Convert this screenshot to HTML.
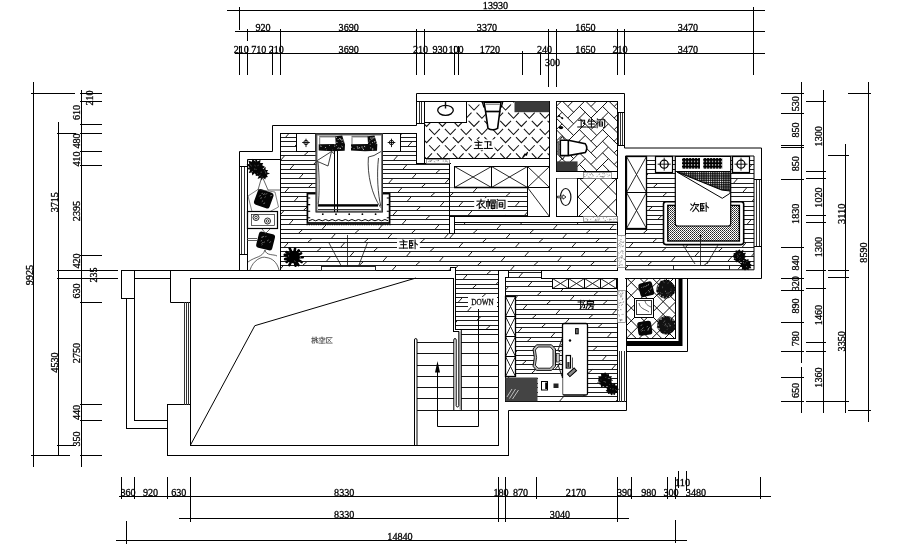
<!DOCTYPE html>
<html><head><meta charset="utf-8"><title>Floor plan</title>
<style>
html,body{margin:0;padding:0;background:#fff;}
body{width:920px;height:560px;overflow:hidden;}
svg{display:block;will-change:transform;}
svg text{font-family:"Liberation Serif",serif;stroke:#000;stroke-width:0.3px;}
</style></head><body>
<svg width="920" height="560" viewBox="0 0 920 560">
<rect width="920" height="560" fill="#fff"/>
<defs>
<clipPath id="cA"><path d="M280.5 133 L416.8 133 L416.8 163.3 L449.5 163.3 L449.5 270.5 L280.5 270.5 Z"/></clipPath>
<clipPath id="cH"><path d="M449 233.75 L454.5 233.75 L454.5 222.5 L616.5 222.5 L616.5 271 L498.75 271 L498.75 329.5 L455.5 329.5 L455.5 267 L450 267 L450 270.5 L449 270.5 Z"/></clipPath>
<clipPath id="cS"><path d="M508 271 L541 271 L541 278 L617 278 L617 401.25 L505.5 401.25 L505.5 277.5 L508 277.5 Z"/></clipPath>
<clipPath id="cB"><rect x="449.5" y="187.5" width="78.0" height="28.75"/></clipPath>
<clipPath id="cC"><rect x="625" y="156" width="129" height="113.30000000000001"/></clipPath>
<clipPath id="cBath"><rect x="424.4" y="101.2" width="124.85000000000002" height="56.8"/></clipPath>
<clipPath id="cWC"><rect x="556.75" y="101.2" width="60.25" height="70.05"/></clipPath>
<clipPath id="cSink"><rect x="577.9" y="178" width="38.60000000000002" height="38.25"/></clipPath>
<clipPath id="cBal"><rect x="626" y="278" width="49" height="60.39999999999998"/></clipPath>
</defs>
<g clip-path="url(#cA)" stroke="#1c1c1c" stroke-width="1">
<line x1="280.0" y1="123.5" x2="450.0" y2="123.5"/>
<line x1="276.10" y1="128.5" x2="280.50" y2="123.5"/>
<line x1="332.60" y1="128.5" x2="337.00" y2="123.5"/>
<line x1="389.10" y1="128.5" x2="393.50" y2="123.5"/>
<line x1="445.60" y1="128.5" x2="450.00" y2="123.5"/>
<line x1="280.0" y1="128.5" x2="450.0" y2="128.5"/>
<line x1="252.50" y1="132.5" x2="256.90" y2="128.5"/>
<line x1="309.00" y1="132.5" x2="313.40" y2="128.5"/>
<line x1="365.50" y1="132.5" x2="369.90" y2="128.5"/>
<line x1="422.00" y1="132.5" x2="426.40" y2="128.5"/>
<line x1="280.0" y1="132.5" x2="450.0" y2="132.5"/>
<line x1="228.90" y1="137.5" x2="233.30" y2="132.5"/>
<line x1="285.40" y1="137.5" x2="289.80" y2="132.5"/>
<line x1="341.90" y1="137.5" x2="346.30" y2="132.5"/>
<line x1="398.40" y1="137.5" x2="402.80" y2="132.5"/>
<line x1="280.0" y1="137.5" x2="450.0" y2="137.5"/>
<line x1="261.80" y1="141.5" x2="266.20" y2="137.5"/>
<line x1="318.30" y1="141.5" x2="322.70" y2="137.5"/>
<line x1="374.80" y1="141.5" x2="379.20" y2="137.5"/>
<line x1="431.30" y1="141.5" x2="435.70" y2="137.5"/>
<line x1="280.0" y1="141.5" x2="450.0" y2="141.5"/>
<line x1="238.20" y1="146.5" x2="242.60" y2="141.5"/>
<line x1="294.70" y1="146.5" x2="299.10" y2="141.5"/>
<line x1="351.20" y1="146.5" x2="355.60" y2="141.5"/>
<line x1="407.70" y1="146.5" x2="412.10" y2="141.5"/>
<line x1="280.0" y1="146.5" x2="450.0" y2="146.5"/>
<line x1="271.10" y1="151.5" x2="275.50" y2="146.5"/>
<line x1="327.60" y1="151.5" x2="332.00" y2="146.5"/>
<line x1="384.10" y1="151.5" x2="388.50" y2="146.5"/>
<line x1="440.60" y1="151.5" x2="445.00" y2="146.5"/>
<line x1="280.0" y1="151.5" x2="450.0" y2="151.5"/>
<line x1="247.50" y1="155.5" x2="251.90" y2="151.5"/>
<line x1="304.00" y1="155.5" x2="308.40" y2="151.5"/>
<line x1="360.50" y1="155.5" x2="364.90" y2="151.5"/>
<line x1="417.00" y1="155.5" x2="421.40" y2="151.5"/>
<line x1="280.0" y1="155.5" x2="450.0" y2="155.5"/>
<line x1="223.90" y1="160.5" x2="228.30" y2="155.5"/>
<line x1="280.40" y1="160.5" x2="284.80" y2="155.5"/>
<line x1="336.90" y1="160.5" x2="341.30" y2="155.5"/>
<line x1="393.40" y1="160.5" x2="397.80" y2="155.5"/>
<line x1="449.90" y1="160.5" x2="454.30" y2="155.5"/>
<line x1="280.0" y1="160.5" x2="450.0" y2="160.5"/>
<line x1="256.80" y1="164.5" x2="261.20" y2="160.5"/>
<line x1="313.30" y1="164.5" x2="317.70" y2="160.5"/>
<line x1="369.80" y1="164.5" x2="374.20" y2="160.5"/>
<line x1="426.30" y1="164.5" x2="430.70" y2="160.5"/>
<line x1="280.0" y1="164.5" x2="450.0" y2="164.5"/>
<line x1="233.20" y1="169.5" x2="237.60" y2="164.5"/>
<line x1="289.70" y1="169.5" x2="294.10" y2="164.5"/>
<line x1="346.20" y1="169.5" x2="350.60" y2="164.5"/>
<line x1="402.70" y1="169.5" x2="407.10" y2="164.5"/>
<line x1="280.0" y1="169.5" x2="450.0" y2="169.5"/>
<line x1="266.10" y1="173.5" x2="270.50" y2="169.5"/>
<line x1="322.60" y1="173.5" x2="327.00" y2="169.5"/>
<line x1="379.10" y1="173.5" x2="383.50" y2="169.5"/>
<line x1="435.60" y1="173.5" x2="440.00" y2="169.5"/>
<line x1="280.0" y1="173.5" x2="450.0" y2="173.5"/>
<line x1="242.50" y1="178.5" x2="246.90" y2="173.5"/>
<line x1="299.00" y1="178.5" x2="303.40" y2="173.5"/>
<line x1="355.50" y1="178.5" x2="359.90" y2="173.5"/>
<line x1="412.00" y1="178.5" x2="416.40" y2="173.5"/>
<line x1="280.0" y1="178.5" x2="450.0" y2="178.5"/>
<line x1="275.40" y1="183.5" x2="279.80" y2="178.5"/>
<line x1="331.90" y1="183.5" x2="336.30" y2="178.5"/>
<line x1="388.40" y1="183.5" x2="392.80" y2="178.5"/>
<line x1="444.90" y1="183.5" x2="449.30" y2="178.5"/>
<line x1="280.0" y1="183.5" x2="450.0" y2="183.5"/>
<line x1="251.80" y1="187.5" x2="256.20" y2="183.5"/>
<line x1="308.30" y1="187.5" x2="312.70" y2="183.5"/>
<line x1="364.80" y1="187.5" x2="369.20" y2="183.5"/>
<line x1="421.30" y1="187.5" x2="425.70" y2="183.5"/>
<line x1="280.0" y1="187.5" x2="450.0" y2="187.5"/>
<line x1="228.20" y1="192.5" x2="232.60" y2="187.5"/>
<line x1="284.70" y1="192.5" x2="289.10" y2="187.5"/>
<line x1="341.20" y1="192.5" x2="345.60" y2="187.5"/>
<line x1="397.70" y1="192.5" x2="402.10" y2="187.5"/>
<line x1="280.0" y1="192.5" x2="450.0" y2="192.5"/>
<line x1="261.10" y1="196.5" x2="265.50" y2="192.5"/>
<line x1="317.60" y1="196.5" x2="322.00" y2="192.5"/>
<line x1="374.10" y1="196.5" x2="378.50" y2="192.5"/>
<line x1="430.60" y1="196.5" x2="435.00" y2="192.5"/>
<line x1="280.0" y1="196.5" x2="450.0" y2="196.5"/>
<line x1="237.50" y1="201.5" x2="241.90" y2="196.5"/>
<line x1="294.00" y1="201.5" x2="298.40" y2="196.5"/>
<line x1="350.50" y1="201.5" x2="354.90" y2="196.5"/>
<line x1="407.00" y1="201.5" x2="411.40" y2="196.5"/>
<line x1="280.0" y1="201.5" x2="450.0" y2="201.5"/>
<line x1="270.40" y1="206.5" x2="274.80" y2="201.5"/>
<line x1="326.90" y1="206.5" x2="331.30" y2="201.5"/>
<line x1="383.40" y1="206.5" x2="387.80" y2="201.5"/>
<line x1="439.90" y1="206.5" x2="444.30" y2="201.5"/>
<line x1="280.0" y1="206.5" x2="450.0" y2="206.5"/>
<line x1="246.80" y1="210.5" x2="251.20" y2="206.5"/>
<line x1="303.30" y1="210.5" x2="307.70" y2="206.5"/>
<line x1="359.80" y1="210.5" x2="364.20" y2="206.5"/>
<line x1="416.30" y1="210.5" x2="420.70" y2="206.5"/>
<line x1="280.0" y1="210.5" x2="450.0" y2="210.5"/>
<line x1="223.20" y1="215.5" x2="227.60" y2="210.5"/>
<line x1="279.70" y1="215.5" x2="284.10" y2="210.5"/>
<line x1="336.20" y1="215.5" x2="340.60" y2="210.5"/>
<line x1="392.70" y1="215.5" x2="397.10" y2="210.5"/>
<line x1="449.20" y1="215.5" x2="453.60" y2="210.5"/>
<line x1="280.0" y1="215.5" x2="450.0" y2="215.5"/>
<line x1="256.10" y1="219.5" x2="260.50" y2="215.5"/>
<line x1="312.60" y1="219.5" x2="317.00" y2="215.5"/>
<line x1="369.10" y1="219.5" x2="373.50" y2="215.5"/>
<line x1="425.60" y1="219.5" x2="430.00" y2="215.5"/>
<line x1="280.0" y1="219.5" x2="450.0" y2="219.5"/>
<line x1="232.50" y1="224.5" x2="236.90" y2="219.5"/>
<line x1="289.00" y1="224.5" x2="293.40" y2="219.5"/>
<line x1="345.50" y1="224.5" x2="349.90" y2="219.5"/>
<line x1="402.00" y1="224.5" x2="406.40" y2="219.5"/>
<line x1="280.0" y1="224.5" x2="450.0" y2="224.5"/>
<line x1="265.40" y1="229.5" x2="269.80" y2="224.5"/>
<line x1="321.90" y1="229.5" x2="326.30" y2="224.5"/>
<line x1="378.40" y1="229.5" x2="382.80" y2="224.5"/>
<line x1="434.90" y1="229.5" x2="439.30" y2="224.5"/>
<line x1="280.0" y1="229.5" x2="450.0" y2="229.5"/>
<line x1="241.80" y1="233.5" x2="246.20" y2="229.5"/>
<line x1="298.30" y1="233.5" x2="302.70" y2="229.5"/>
<line x1="354.80" y1="233.5" x2="359.20" y2="229.5"/>
<line x1="411.30" y1="233.5" x2="415.70" y2="229.5"/>
<line x1="280.0" y1="233.5" x2="450.0" y2="233.5"/>
<line x1="274.70" y1="238.5" x2="279.10" y2="233.5"/>
<line x1="331.20" y1="238.5" x2="335.60" y2="233.5"/>
<line x1="387.70" y1="238.5" x2="392.10" y2="233.5"/>
<line x1="444.20" y1="238.5" x2="448.60" y2="233.5"/>
<line x1="280.0" y1="238.5" x2="450.0" y2="238.5"/>
<line x1="251.10" y1="242.5" x2="255.50" y2="238.5"/>
<line x1="307.60" y1="242.5" x2="312.00" y2="238.5"/>
<line x1="364.10" y1="242.5" x2="368.50" y2="238.5"/>
<line x1="420.60" y1="242.5" x2="425.00" y2="238.5"/>
<line x1="280.0" y1="242.5" x2="450.0" y2="242.5"/>
<line x1="227.50" y1="247.5" x2="231.90" y2="242.5"/>
<line x1="284.00" y1="247.5" x2="288.40" y2="242.5"/>
<line x1="340.50" y1="247.5" x2="344.90" y2="242.5"/>
<line x1="397.00" y1="247.5" x2="401.40" y2="242.5"/>
<line x1="280.0" y1="247.5" x2="450.0" y2="247.5"/>
<line x1="260.40" y1="251.5" x2="264.80" y2="247.5"/>
<line x1="316.90" y1="251.5" x2="321.30" y2="247.5"/>
<line x1="373.40" y1="251.5" x2="377.80" y2="247.5"/>
<line x1="429.90" y1="251.5" x2="434.30" y2="247.5"/>
<line x1="280.0" y1="251.5" x2="450.0" y2="251.5"/>
<line x1="236.80" y1="256.5" x2="241.20" y2="251.5"/>
<line x1="293.30" y1="256.5" x2="297.70" y2="251.5"/>
<line x1="349.80" y1="256.5" x2="354.20" y2="251.5"/>
<line x1="406.30" y1="256.5" x2="410.70" y2="251.5"/>
<line x1="280.0" y1="256.5" x2="450.0" y2="256.5"/>
<line x1="269.70" y1="261.5" x2="274.10" y2="256.5"/>
<line x1="326.20" y1="261.5" x2="330.60" y2="256.5"/>
<line x1="382.70" y1="261.5" x2="387.10" y2="256.5"/>
<line x1="439.20" y1="261.5" x2="443.60" y2="256.5"/>
<line x1="280.0" y1="261.5" x2="450.0" y2="261.5"/>
<line x1="246.10" y1="265.5" x2="250.50" y2="261.5"/>
<line x1="302.60" y1="265.5" x2="307.00" y2="261.5"/>
<line x1="359.10" y1="265.5" x2="363.50" y2="261.5"/>
<line x1="415.60" y1="265.5" x2="420.00" y2="261.5"/>
<line x1="280.0" y1="265.5" x2="450.0" y2="265.5"/>
<line x1="222.50" y1="270.5" x2="226.90" y2="265.5"/>
<line x1="279.00" y1="270.5" x2="283.40" y2="265.5"/>
<line x1="335.50" y1="270.5" x2="339.90" y2="265.5"/>
<line x1="392.00" y1="270.5" x2="396.40" y2="265.5"/>
<line x1="448.50" y1="270.5" x2="452.90" y2="265.5"/>
<line x1="280.0" y1="270.5" x2="450.0" y2="270.5"/>
<line x1="255.40" y1="274.5" x2="259.80" y2="270.5"/>
<line x1="311.90" y1="274.5" x2="316.30" y2="270.5"/>
<line x1="368.40" y1="274.5" x2="372.80" y2="270.5"/>
<line x1="424.90" y1="274.5" x2="429.30" y2="270.5"/>
<line x1="280.0" y1="274.5" x2="450.0" y2="274.5"/>
<line x1="231.80" y1="279.5" x2="236.20" y2="274.5"/>
<line x1="288.30" y1="279.5" x2="292.70" y2="274.5"/>
<line x1="344.80" y1="279.5" x2="349.20" y2="274.5"/>
<line x1="401.30" y1="279.5" x2="405.70" y2="274.5"/>
<line x1="280.0" y1="279.5" x2="450.0" y2="279.5"/>
<line x1="264.70" y1="284.5" x2="269.10" y2="279.5"/>
<line x1="321.20" y1="284.5" x2="325.60" y2="279.5"/>
<line x1="377.70" y1="284.5" x2="382.10" y2="279.5"/>
<line x1="434.20" y1="284.5" x2="438.60" y2="279.5"/>
</g>
<g clip-path="url(#cH)" stroke="#1c1c1c" stroke-width="1">
<line x1="449.0" y1="215.5" x2="620.0" y2="215.5"/>
<line x1="430.80" y1="219.5" x2="435.20" y2="215.5"/>
<line x1="487.30" y1="219.5" x2="491.70" y2="215.5"/>
<line x1="543.80" y1="219.5" x2="548.20" y2="215.5"/>
<line x1="600.30" y1="219.5" x2="604.70" y2="215.5"/>
<line x1="449.0" y1="219.5" x2="620.0" y2="219.5"/>
<line x1="407.20" y1="224.5" x2="411.60" y2="219.5"/>
<line x1="463.70" y1="224.5" x2="468.10" y2="219.5"/>
<line x1="520.20" y1="224.5" x2="524.60" y2="219.5"/>
<line x1="576.70" y1="224.5" x2="581.10" y2="219.5"/>
<line x1="449.0" y1="224.5" x2="620.0" y2="224.5"/>
<line x1="440.10" y1="229.5" x2="444.50" y2="224.5"/>
<line x1="496.60" y1="229.5" x2="501.00" y2="224.5"/>
<line x1="553.10" y1="229.5" x2="557.50" y2="224.5"/>
<line x1="609.60" y1="229.5" x2="614.00" y2="224.5"/>
<line x1="449.0" y1="229.5" x2="620.0" y2="229.5"/>
<line x1="416.50" y1="233.5" x2="420.90" y2="229.5"/>
<line x1="473.00" y1="233.5" x2="477.40" y2="229.5"/>
<line x1="529.50" y1="233.5" x2="533.90" y2="229.5"/>
<line x1="586.00" y1="233.5" x2="590.40" y2="229.5"/>
<line x1="449.0" y1="233.5" x2="620.0" y2="233.5"/>
<line x1="392.90" y1="238.5" x2="397.30" y2="233.5"/>
<line x1="449.40" y1="238.5" x2="453.80" y2="233.5"/>
<line x1="505.90" y1="238.5" x2="510.30" y2="233.5"/>
<line x1="562.40" y1="238.5" x2="566.80" y2="233.5"/>
<line x1="618.90" y1="238.5" x2="623.30" y2="233.5"/>
<line x1="449.0" y1="238.5" x2="620.0" y2="238.5"/>
<line x1="425.80" y1="242.5" x2="430.20" y2="238.5"/>
<line x1="482.30" y1="242.5" x2="486.70" y2="238.5"/>
<line x1="538.80" y1="242.5" x2="543.20" y2="238.5"/>
<line x1="595.30" y1="242.5" x2="599.70" y2="238.5"/>
<line x1="449.0" y1="242.5" x2="620.0" y2="242.5"/>
<line x1="402.20" y1="247.5" x2="406.60" y2="242.5"/>
<line x1="458.70" y1="247.5" x2="463.10" y2="242.5"/>
<line x1="515.20" y1="247.5" x2="519.60" y2="242.5"/>
<line x1="571.70" y1="247.5" x2="576.10" y2="242.5"/>
<line x1="449.0" y1="247.5" x2="620.0" y2="247.5"/>
<line x1="435.10" y1="251.5" x2="439.50" y2="247.5"/>
<line x1="491.60" y1="251.5" x2="496.00" y2="247.5"/>
<line x1="548.10" y1="251.5" x2="552.50" y2="247.5"/>
<line x1="604.60" y1="251.5" x2="609.00" y2="247.5"/>
<line x1="449.0" y1="251.5" x2="620.0" y2="251.5"/>
<line x1="411.50" y1="256.5" x2="415.90" y2="251.5"/>
<line x1="468.00" y1="256.5" x2="472.40" y2="251.5"/>
<line x1="524.50" y1="256.5" x2="528.90" y2="251.5"/>
<line x1="581.00" y1="256.5" x2="585.40" y2="251.5"/>
<line x1="449.0" y1="256.5" x2="620.0" y2="256.5"/>
<line x1="444.40" y1="261.5" x2="448.80" y2="256.5"/>
<line x1="500.90" y1="261.5" x2="505.30" y2="256.5"/>
<line x1="557.40" y1="261.5" x2="561.80" y2="256.5"/>
<line x1="613.90" y1="261.5" x2="618.30" y2="256.5"/>
<line x1="449.0" y1="261.5" x2="620.0" y2="261.5"/>
<line x1="420.80" y1="265.5" x2="425.20" y2="261.5"/>
<line x1="477.30" y1="265.5" x2="481.70" y2="261.5"/>
<line x1="533.80" y1="265.5" x2="538.20" y2="261.5"/>
<line x1="590.30" y1="265.5" x2="594.70" y2="261.5"/>
<line x1="449.0" y1="265.5" x2="620.0" y2="265.5"/>
<line x1="397.20" y1="270.5" x2="401.60" y2="265.5"/>
<line x1="453.70" y1="270.5" x2="458.10" y2="265.5"/>
<line x1="510.20" y1="270.5" x2="514.60" y2="265.5"/>
<line x1="566.70" y1="270.5" x2="571.10" y2="265.5"/>
<line x1="449.0" y1="270.5" x2="620.0" y2="270.5"/>
<line x1="430.10" y1="274.5" x2="434.50" y2="270.5"/>
<line x1="486.60" y1="274.5" x2="491.00" y2="270.5"/>
<line x1="543.10" y1="274.5" x2="547.50" y2="270.5"/>
<line x1="599.60" y1="274.5" x2="604.00" y2="270.5"/>
<line x1="449.0" y1="274.5" x2="620.0" y2="274.5"/>
<line x1="406.50" y1="279.5" x2="410.90" y2="274.5"/>
<line x1="463.00" y1="279.5" x2="467.40" y2="274.5"/>
<line x1="519.50" y1="279.5" x2="523.90" y2="274.5"/>
<line x1="576.00" y1="279.5" x2="580.40" y2="274.5"/>
<line x1="449.0" y1="279.5" x2="620.0" y2="279.5"/>
<line x1="439.40" y1="284.5" x2="443.80" y2="279.5"/>
<line x1="495.90" y1="284.5" x2="500.30" y2="279.5"/>
<line x1="552.40" y1="284.5" x2="556.80" y2="279.5"/>
<line x1="608.90" y1="284.5" x2="613.30" y2="279.5"/>
<line x1="449.0" y1="284.5" x2="620.0" y2="284.5"/>
<line x1="415.80" y1="288.5" x2="420.20" y2="284.5"/>
<line x1="472.30" y1="288.5" x2="476.70" y2="284.5"/>
<line x1="528.80" y1="288.5" x2="533.20" y2="284.5"/>
<line x1="585.30" y1="288.5" x2="589.70" y2="284.5"/>
<line x1="449.0" y1="288.5" x2="620.0" y2="288.5"/>
<line x1="392.20" y1="293.5" x2="396.60" y2="288.5"/>
<line x1="448.70" y1="293.5" x2="453.10" y2="288.5"/>
<line x1="505.20" y1="293.5" x2="509.60" y2="288.5"/>
<line x1="561.70" y1="293.5" x2="566.10" y2="288.5"/>
<line x1="618.20" y1="293.5" x2="622.60" y2="288.5"/>
<line x1="449.0" y1="293.5" x2="620.0" y2="293.5"/>
<line x1="425.10" y1="297.5" x2="429.50" y2="293.5"/>
<line x1="481.60" y1="297.5" x2="486.00" y2="293.5"/>
<line x1="538.10" y1="297.5" x2="542.50" y2="293.5"/>
<line x1="594.60" y1="297.5" x2="599.00" y2="293.5"/>
<line x1="449.0" y1="297.5" x2="620.0" y2="297.5"/>
<line x1="401.50" y1="302.5" x2="405.90" y2="297.5"/>
<line x1="458.00" y1="302.5" x2="462.40" y2="297.5"/>
<line x1="514.50" y1="302.5" x2="518.90" y2="297.5"/>
<line x1="571.00" y1="302.5" x2="575.40" y2="297.5"/>
<line x1="449.0" y1="302.5" x2="620.0" y2="302.5"/>
<line x1="434.40" y1="306.5" x2="438.80" y2="302.5"/>
<line x1="490.90" y1="306.5" x2="495.30" y2="302.5"/>
<line x1="547.40" y1="306.5" x2="551.80" y2="302.5"/>
<line x1="603.90" y1="306.5" x2="608.30" y2="302.5"/>
<line x1="449.0" y1="306.5" x2="620.0" y2="306.5"/>
<line x1="410.80" y1="311.5" x2="415.20" y2="306.5"/>
<line x1="467.30" y1="311.5" x2="471.70" y2="306.5"/>
<line x1="523.80" y1="311.5" x2="528.20" y2="306.5"/>
<line x1="580.30" y1="311.5" x2="584.70" y2="306.5"/>
<line x1="449.0" y1="311.5" x2="620.0" y2="311.5"/>
<line x1="443.70" y1="316.5" x2="448.10" y2="311.5"/>
<line x1="500.20" y1="316.5" x2="504.60" y2="311.5"/>
<line x1="556.70" y1="316.5" x2="561.10" y2="311.5"/>
<line x1="613.20" y1="316.5" x2="617.60" y2="311.5"/>
<line x1="449.0" y1="316.5" x2="620.0" y2="316.5"/>
<line x1="420.10" y1="320.5" x2="424.50" y2="316.5"/>
<line x1="476.60" y1="320.5" x2="481.00" y2="316.5"/>
<line x1="533.10" y1="320.5" x2="537.50" y2="316.5"/>
<line x1="589.60" y1="320.5" x2="594.00" y2="316.5"/>
<line x1="449.0" y1="320.5" x2="620.0" y2="320.5"/>
<line x1="396.50" y1="325.5" x2="400.90" y2="320.5"/>
<line x1="453.00" y1="325.5" x2="457.40" y2="320.5"/>
<line x1="509.50" y1="325.5" x2="513.90" y2="320.5"/>
<line x1="566.00" y1="325.5" x2="570.40" y2="320.5"/>
<line x1="622.50" y1="325.5" x2="626.90" y2="320.5"/>
<line x1="449.0" y1="325.5" x2="620.0" y2="325.5"/>
<line x1="429.40" y1="329.5" x2="433.80" y2="325.5"/>
<line x1="485.90" y1="329.5" x2="490.30" y2="325.5"/>
<line x1="542.40" y1="329.5" x2="546.80" y2="325.5"/>
<line x1="598.90" y1="329.5" x2="603.30" y2="325.5"/>
<line x1="449.0" y1="329.5" x2="620.0" y2="329.5"/>
<line x1="405.80" y1="334.5" x2="410.20" y2="329.5"/>
<line x1="462.30" y1="334.5" x2="466.70" y2="329.5"/>
<line x1="518.80" y1="334.5" x2="523.20" y2="329.5"/>
<line x1="575.30" y1="334.5" x2="579.70" y2="329.5"/>
<line x1="449.0" y1="334.5" x2="620.0" y2="334.5"/>
<line x1="438.70" y1="339.5" x2="443.10" y2="334.5"/>
<line x1="495.20" y1="339.5" x2="499.60" y2="334.5"/>
<line x1="551.70" y1="339.5" x2="556.10" y2="334.5"/>
<line x1="608.20" y1="339.5" x2="612.60" y2="334.5"/>
<line x1="449.0" y1="339.5" x2="620.0" y2="339.5"/>
<line x1="415.10" y1="343.5" x2="419.50" y2="339.5"/>
<line x1="471.60" y1="343.5" x2="476.00" y2="339.5"/>
<line x1="528.10" y1="343.5" x2="532.50" y2="339.5"/>
<line x1="584.60" y1="343.5" x2="589.00" y2="339.5"/>
</g>
<g clip-path="url(#cS)" stroke="#1c1c1c" stroke-width="1">
<line x1="505.0" y1="263.5" x2="620.0" y2="263.5"/>
<line x1="452.70" y1="268.5" x2="457.10" y2="263.5"/>
<line x1="509.20" y1="268.5" x2="513.60" y2="263.5"/>
<line x1="565.70" y1="268.5" x2="570.10" y2="263.5"/>
<line x1="622.20" y1="268.5" x2="626.60" y2="263.5"/>
<line x1="505.0" y1="268.5" x2="620.0" y2="268.5"/>
<line x1="485.60" y1="272.5" x2="490.00" y2="268.5"/>
<line x1="542.10" y1="272.5" x2="546.50" y2="268.5"/>
<line x1="598.60" y1="272.5" x2="603.00" y2="268.5"/>
<line x1="505.0" y1="272.5" x2="620.0" y2="272.5"/>
<line x1="462.00" y1="277.5" x2="466.40" y2="272.5"/>
<line x1="518.50" y1="277.5" x2="522.90" y2="272.5"/>
<line x1="575.00" y1="277.5" x2="579.40" y2="272.5"/>
<line x1="505.0" y1="277.5" x2="620.0" y2="277.5"/>
<line x1="494.90" y1="281.5" x2="499.30" y2="277.5"/>
<line x1="551.40" y1="281.5" x2="555.80" y2="277.5"/>
<line x1="607.90" y1="281.5" x2="612.30" y2="277.5"/>
<line x1="505.0" y1="281.5" x2="620.0" y2="281.5"/>
<line x1="471.30" y1="286.5" x2="475.70" y2="281.5"/>
<line x1="527.80" y1="286.5" x2="532.20" y2="281.5"/>
<line x1="584.30" y1="286.5" x2="588.70" y2="281.5"/>
<line x1="505.0" y1="286.5" x2="620.0" y2="286.5"/>
<line x1="447.70" y1="291.5" x2="452.10" y2="286.5"/>
<line x1="504.20" y1="291.5" x2="508.60" y2="286.5"/>
<line x1="560.70" y1="291.5" x2="565.10" y2="286.5"/>
<line x1="617.20" y1="291.5" x2="621.60" y2="286.5"/>
<line x1="505.0" y1="291.5" x2="620.0" y2="291.5"/>
<line x1="480.60" y1="295.5" x2="485.00" y2="291.5"/>
<line x1="537.10" y1="295.5" x2="541.50" y2="291.5"/>
<line x1="593.60" y1="295.5" x2="598.00" y2="291.5"/>
<line x1="505.0" y1="295.5" x2="620.0" y2="295.5"/>
<line x1="457.00" y1="300.5" x2="461.40" y2="295.5"/>
<line x1="513.50" y1="300.5" x2="517.90" y2="295.5"/>
<line x1="570.00" y1="300.5" x2="574.40" y2="295.5"/>
<line x1="505.0" y1="300.5" x2="620.0" y2="300.5"/>
<line x1="489.90" y1="304.5" x2="494.30" y2="300.5"/>
<line x1="546.40" y1="304.5" x2="550.80" y2="300.5"/>
<line x1="602.90" y1="304.5" x2="607.30" y2="300.5"/>
<line x1="505.0" y1="304.5" x2="620.0" y2="304.5"/>
<line x1="466.30" y1="309.5" x2="470.70" y2="304.5"/>
<line x1="522.80" y1="309.5" x2="527.20" y2="304.5"/>
<line x1="579.30" y1="309.5" x2="583.70" y2="304.5"/>
<line x1="505.0" y1="309.5" x2="620.0" y2="309.5"/>
<line x1="499.20" y1="314.5" x2="503.60" y2="309.5"/>
<line x1="555.70" y1="314.5" x2="560.10" y2="309.5"/>
<line x1="612.20" y1="314.5" x2="616.60" y2="309.5"/>
<line x1="505.0" y1="314.5" x2="620.0" y2="314.5"/>
<line x1="475.60" y1="318.5" x2="480.00" y2="314.5"/>
<line x1="532.10" y1="318.5" x2="536.50" y2="314.5"/>
<line x1="588.60" y1="318.5" x2="593.00" y2="314.5"/>
<line x1="505.0" y1="318.5" x2="620.0" y2="318.5"/>
<line x1="452.00" y1="323.5" x2="456.40" y2="318.5"/>
<line x1="508.50" y1="323.5" x2="512.90" y2="318.5"/>
<line x1="565.00" y1="323.5" x2="569.40" y2="318.5"/>
<line x1="621.50" y1="323.5" x2="625.90" y2="318.5"/>
<line x1="505.0" y1="323.5" x2="620.0" y2="323.5"/>
<line x1="484.90" y1="327.5" x2="489.30" y2="323.5"/>
<line x1="541.40" y1="327.5" x2="545.80" y2="323.5"/>
<line x1="597.90" y1="327.5" x2="602.30" y2="323.5"/>
<line x1="505.0" y1="327.5" x2="620.0" y2="327.5"/>
<line x1="461.30" y1="332.5" x2="465.70" y2="327.5"/>
<line x1="517.80" y1="332.5" x2="522.20" y2="327.5"/>
<line x1="574.30" y1="332.5" x2="578.70" y2="327.5"/>
<line x1="505.0" y1="332.5" x2="620.0" y2="332.5"/>
<line x1="494.20" y1="337.5" x2="498.60" y2="332.5"/>
<line x1="550.70" y1="337.5" x2="555.10" y2="332.5"/>
<line x1="607.20" y1="337.5" x2="611.60" y2="332.5"/>
<line x1="505.0" y1="337.5" x2="620.0" y2="337.5"/>
<line x1="470.60" y1="341.5" x2="475.00" y2="337.5"/>
<line x1="527.10" y1="341.5" x2="531.50" y2="337.5"/>
<line x1="583.60" y1="341.5" x2="588.00" y2="337.5"/>
<line x1="505.0" y1="341.5" x2="620.0" y2="341.5"/>
<line x1="447.00" y1="346.5" x2="451.40" y2="341.5"/>
<line x1="503.50" y1="346.5" x2="507.90" y2="341.5"/>
<line x1="560.00" y1="346.5" x2="564.40" y2="341.5"/>
<line x1="616.50" y1="346.5" x2="620.90" y2="341.5"/>
<line x1="505.0" y1="346.5" x2="620.0" y2="346.5"/>
<line x1="479.90" y1="350.5" x2="484.30" y2="346.5"/>
<line x1="536.40" y1="350.5" x2="540.80" y2="346.5"/>
<line x1="592.90" y1="350.5" x2="597.30" y2="346.5"/>
<line x1="505.0" y1="350.5" x2="620.0" y2="350.5"/>
<line x1="456.30" y1="355.5" x2="460.70" y2="350.5"/>
<line x1="512.80" y1="355.5" x2="517.20" y2="350.5"/>
<line x1="569.30" y1="355.5" x2="573.70" y2="350.5"/>
<line x1="505.0" y1="355.5" x2="620.0" y2="355.5"/>
<line x1="489.20" y1="360.5" x2="493.60" y2="355.5"/>
<line x1="545.70" y1="360.5" x2="550.10" y2="355.5"/>
<line x1="602.20" y1="360.5" x2="606.60" y2="355.5"/>
<line x1="505.0" y1="360.5" x2="620.0" y2="360.5"/>
<line x1="465.60" y1="364.5" x2="470.00" y2="360.5"/>
<line x1="522.10" y1="364.5" x2="526.50" y2="360.5"/>
<line x1="578.60" y1="364.5" x2="583.00" y2="360.5"/>
<line x1="505.0" y1="364.5" x2="620.0" y2="364.5"/>
<line x1="498.50" y1="369.5" x2="502.90" y2="364.5"/>
<line x1="555.00" y1="369.5" x2="559.40" y2="364.5"/>
<line x1="611.50" y1="369.5" x2="615.90" y2="364.5"/>
<line x1="505.0" y1="369.5" x2="620.0" y2="369.5"/>
<line x1="474.90" y1="373.5" x2="479.30" y2="369.5"/>
<line x1="531.40" y1="373.5" x2="535.80" y2="369.5"/>
<line x1="587.90" y1="373.5" x2="592.30" y2="369.5"/>
<line x1="505.0" y1="373.5" x2="620.0" y2="373.5"/>
<line x1="451.30" y1="378.5" x2="455.70" y2="373.5"/>
<line x1="507.80" y1="378.5" x2="512.20" y2="373.5"/>
<line x1="564.30" y1="378.5" x2="568.70" y2="373.5"/>
<line x1="620.80" y1="378.5" x2="625.20" y2="373.5"/>
<line x1="505.0" y1="378.5" x2="620.0" y2="378.5"/>
<line x1="484.20" y1="383.5" x2="488.60" y2="378.5"/>
<line x1="540.70" y1="383.5" x2="545.10" y2="378.5"/>
<line x1="597.20" y1="383.5" x2="601.60" y2="378.5"/>
<line x1="505.0" y1="383.5" x2="620.0" y2="383.5"/>
<line x1="460.60" y1="387.5" x2="465.00" y2="383.5"/>
<line x1="517.10" y1="387.5" x2="521.50" y2="383.5"/>
<line x1="573.60" y1="387.5" x2="578.00" y2="383.5"/>
<line x1="505.0" y1="387.5" x2="620.0" y2="387.5"/>
<line x1="493.50" y1="392.5" x2="497.90" y2="387.5"/>
<line x1="550.00" y1="392.5" x2="554.40" y2="387.5"/>
<line x1="606.50" y1="392.5" x2="610.90" y2="387.5"/>
<line x1="505.0" y1="392.5" x2="620.0" y2="392.5"/>
<line x1="469.90" y1="396.5" x2="474.30" y2="392.5"/>
<line x1="526.40" y1="396.5" x2="530.80" y2="392.5"/>
<line x1="582.90" y1="396.5" x2="587.30" y2="392.5"/>
<line x1="505.0" y1="396.5" x2="620.0" y2="396.5"/>
<line x1="502.80" y1="401.5" x2="507.20" y2="396.5"/>
<line x1="559.30" y1="401.5" x2="563.70" y2="396.5"/>
<line x1="615.80" y1="401.5" x2="620.20" y2="396.5"/>
<line x1="505.0" y1="401.5" x2="620.0" y2="401.5"/>
<line x1="479.20" y1="406.5" x2="483.60" y2="401.5"/>
<line x1="535.70" y1="406.5" x2="540.10" y2="401.5"/>
<line x1="592.20" y1="406.5" x2="596.60" y2="401.5"/>
<line x1="505.0" y1="406.5" x2="620.0" y2="406.5"/>
<line x1="455.60" y1="410.5" x2="460.00" y2="406.5"/>
<line x1="512.10" y1="410.5" x2="516.50" y2="406.5"/>
<line x1="568.60" y1="410.5" x2="573.00" y2="406.5"/>
<line x1="505.0" y1="410.5" x2="620.0" y2="410.5"/>
<line x1="488.50" y1="415.5" x2="492.90" y2="410.5"/>
<line x1="545.00" y1="415.5" x2="549.40" y2="410.5"/>
<line x1="601.50" y1="415.5" x2="605.90" y2="410.5"/>
</g>
<g clip-path="url(#cB)" stroke="#1c1c1c" stroke-width="1">
<line x1="449.0" y1="178.5" x2="528.0" y2="178.5"/>
<line x1="407.10" y1="183.5" x2="411.50" y2="178.5"/>
<line x1="463.60" y1="183.5" x2="468.00" y2="178.5"/>
<line x1="520.10" y1="183.5" x2="524.50" y2="178.5"/>
<line x1="449.0" y1="183.5" x2="528.0" y2="183.5"/>
<line x1="440.00" y1="187.5" x2="444.40" y2="183.5"/>
<line x1="496.50" y1="187.5" x2="500.90" y2="183.5"/>
<line x1="449.0" y1="187.5" x2="528.0" y2="187.5"/>
<line x1="416.40" y1="192.5" x2="420.80" y2="187.5"/>
<line x1="472.90" y1="192.5" x2="477.30" y2="187.5"/>
<line x1="529.40" y1="192.5" x2="533.80" y2="187.5"/>
<line x1="449.0" y1="192.5" x2="528.0" y2="192.5"/>
<line x1="392.80" y1="196.5" x2="397.20" y2="192.5"/>
<line x1="449.30" y1="196.5" x2="453.70" y2="192.5"/>
<line x1="505.80" y1="196.5" x2="510.20" y2="192.5"/>
<line x1="449.0" y1="196.5" x2="528.0" y2="196.5"/>
<line x1="425.70" y1="201.5" x2="430.10" y2="196.5"/>
<line x1="482.20" y1="201.5" x2="486.60" y2="196.5"/>
<line x1="449.0" y1="201.5" x2="528.0" y2="201.5"/>
<line x1="402.10" y1="206.5" x2="406.50" y2="201.5"/>
<line x1="458.60" y1="206.5" x2="463.00" y2="201.5"/>
<line x1="515.10" y1="206.5" x2="519.50" y2="201.5"/>
<line x1="449.0" y1="206.5" x2="528.0" y2="206.5"/>
<line x1="435.00" y1="210.5" x2="439.40" y2="206.5"/>
<line x1="491.50" y1="210.5" x2="495.90" y2="206.5"/>
<line x1="449.0" y1="210.5" x2="528.0" y2="210.5"/>
<line x1="411.40" y1="215.5" x2="415.80" y2="210.5"/>
<line x1="467.90" y1="215.5" x2="472.30" y2="210.5"/>
<line x1="524.40" y1="215.5" x2="528.80" y2="210.5"/>
<line x1="449.0" y1="215.5" x2="528.0" y2="215.5"/>
<line x1="444.30" y1="219.5" x2="448.70" y2="215.5"/>
<line x1="500.80" y1="219.5" x2="505.20" y2="215.5"/>
<line x1="449.0" y1="219.5" x2="528.0" y2="219.5"/>
<line x1="420.70" y1="224.5" x2="425.10" y2="219.5"/>
<line x1="477.20" y1="224.5" x2="481.60" y2="219.5"/>
<line x1="449.0" y1="224.5" x2="528.0" y2="224.5"/>
<line x1="397.10" y1="229.5" x2="401.50" y2="224.5"/>
<line x1="453.60" y1="229.5" x2="458.00" y2="224.5"/>
<line x1="510.10" y1="229.5" x2="514.50" y2="224.5"/>
</g>
<g clip-path="url(#cC)" stroke="#1c1c1c" stroke-width="1">
<line x1="625.0" y1="151.5" x2="754.0" y2="151.5"/>
<line x1="592.40" y1="155.5" x2="596.80" y2="151.5"/>
<line x1="648.90" y1="155.5" x2="653.30" y2="151.5"/>
<line x1="705.40" y1="155.5" x2="709.80" y2="151.5"/>
<line x1="625.0" y1="155.5" x2="754.0" y2="155.5"/>
<line x1="568.80" y1="160.5" x2="573.20" y2="155.5"/>
<line x1="625.30" y1="160.5" x2="629.70" y2="155.5"/>
<line x1="681.80" y1="160.5" x2="686.20" y2="155.5"/>
<line x1="738.30" y1="160.5" x2="742.70" y2="155.5"/>
<line x1="625.0" y1="160.5" x2="754.0" y2="160.5"/>
<line x1="601.70" y1="164.5" x2="606.10" y2="160.5"/>
<line x1="658.20" y1="164.5" x2="662.60" y2="160.5"/>
<line x1="714.70" y1="164.5" x2="719.10" y2="160.5"/>
<line x1="625.0" y1="164.5" x2="754.0" y2="164.5"/>
<line x1="578.10" y1="169.5" x2="582.50" y2="164.5"/>
<line x1="634.60" y1="169.5" x2="639.00" y2="164.5"/>
<line x1="691.10" y1="169.5" x2="695.50" y2="164.5"/>
<line x1="747.60" y1="169.5" x2="752.00" y2="164.5"/>
<line x1="625.0" y1="169.5" x2="754.0" y2="169.5"/>
<line x1="611.00" y1="173.5" x2="615.40" y2="169.5"/>
<line x1="667.50" y1="173.5" x2="671.90" y2="169.5"/>
<line x1="724.00" y1="173.5" x2="728.40" y2="169.5"/>
<line x1="625.0" y1="173.5" x2="754.0" y2="173.5"/>
<line x1="587.40" y1="178.5" x2="591.80" y2="173.5"/>
<line x1="643.90" y1="178.5" x2="648.30" y2="173.5"/>
<line x1="700.40" y1="178.5" x2="704.80" y2="173.5"/>
<line x1="625.0" y1="178.5" x2="754.0" y2="178.5"/>
<line x1="620.30" y1="183.5" x2="624.70" y2="178.5"/>
<line x1="676.80" y1="183.5" x2="681.20" y2="178.5"/>
<line x1="733.30" y1="183.5" x2="737.70" y2="178.5"/>
<line x1="625.0" y1="183.5" x2="754.0" y2="183.5"/>
<line x1="596.70" y1="187.5" x2="601.10" y2="183.5"/>
<line x1="653.20" y1="187.5" x2="657.60" y2="183.5"/>
<line x1="709.70" y1="187.5" x2="714.10" y2="183.5"/>
<line x1="625.0" y1="187.5" x2="754.0" y2="187.5"/>
<line x1="573.10" y1="192.5" x2="577.50" y2="187.5"/>
<line x1="629.60" y1="192.5" x2="634.00" y2="187.5"/>
<line x1="686.10" y1="192.5" x2="690.50" y2="187.5"/>
<line x1="742.60" y1="192.5" x2="747.00" y2="187.5"/>
<line x1="625.0" y1="192.5" x2="754.0" y2="192.5"/>
<line x1="606.00" y1="196.5" x2="610.40" y2="192.5"/>
<line x1="662.50" y1="196.5" x2="666.90" y2="192.5"/>
<line x1="719.00" y1="196.5" x2="723.40" y2="192.5"/>
<line x1="625.0" y1="196.5" x2="754.0" y2="196.5"/>
<line x1="582.40" y1="201.5" x2="586.80" y2="196.5"/>
<line x1="638.90" y1="201.5" x2="643.30" y2="196.5"/>
<line x1="695.40" y1="201.5" x2="699.80" y2="196.5"/>
<line x1="751.90" y1="201.5" x2="756.30" y2="196.5"/>
<line x1="625.0" y1="201.5" x2="754.0" y2="201.5"/>
<line x1="615.30" y1="206.5" x2="619.70" y2="201.5"/>
<line x1="671.80" y1="206.5" x2="676.20" y2="201.5"/>
<line x1="728.30" y1="206.5" x2="732.70" y2="201.5"/>
<line x1="625.0" y1="206.5" x2="754.0" y2="206.5"/>
<line x1="591.70" y1="210.5" x2="596.10" y2="206.5"/>
<line x1="648.20" y1="210.5" x2="652.60" y2="206.5"/>
<line x1="704.70" y1="210.5" x2="709.10" y2="206.5"/>
<line x1="625.0" y1="210.5" x2="754.0" y2="210.5"/>
<line x1="568.10" y1="215.5" x2="572.50" y2="210.5"/>
<line x1="624.60" y1="215.5" x2="629.00" y2="210.5"/>
<line x1="681.10" y1="215.5" x2="685.50" y2="210.5"/>
<line x1="737.60" y1="215.5" x2="742.00" y2="210.5"/>
<line x1="625.0" y1="215.5" x2="754.0" y2="215.5"/>
<line x1="601.00" y1="219.5" x2="605.40" y2="215.5"/>
<line x1="657.50" y1="219.5" x2="661.90" y2="215.5"/>
<line x1="714.00" y1="219.5" x2="718.40" y2="215.5"/>
<line x1="625.0" y1="219.5" x2="754.0" y2="219.5"/>
<line x1="577.40" y1="224.5" x2="581.80" y2="219.5"/>
<line x1="633.90" y1="224.5" x2="638.30" y2="219.5"/>
<line x1="690.40" y1="224.5" x2="694.80" y2="219.5"/>
<line x1="746.90" y1="224.5" x2="751.30" y2="219.5"/>
<line x1="625.0" y1="224.5" x2="754.0" y2="224.5"/>
<line x1="610.30" y1="229.5" x2="614.70" y2="224.5"/>
<line x1="666.80" y1="229.5" x2="671.20" y2="224.5"/>
<line x1="723.30" y1="229.5" x2="727.70" y2="224.5"/>
<line x1="625.0" y1="229.5" x2="754.0" y2="229.5"/>
<line x1="586.70" y1="233.5" x2="591.10" y2="229.5"/>
<line x1="643.20" y1="233.5" x2="647.60" y2="229.5"/>
<line x1="699.70" y1="233.5" x2="704.10" y2="229.5"/>
<line x1="756.20" y1="233.5" x2="760.60" y2="229.5"/>
<line x1="625.0" y1="233.5" x2="754.0" y2="233.5"/>
<line x1="619.60" y1="238.5" x2="624.00" y2="233.5"/>
<line x1="676.10" y1="238.5" x2="680.50" y2="233.5"/>
<line x1="732.60" y1="238.5" x2="737.00" y2="233.5"/>
<line x1="625.0" y1="238.5" x2="754.0" y2="238.5"/>
<line x1="596.00" y1="242.5" x2="600.40" y2="238.5"/>
<line x1="652.50" y1="242.5" x2="656.90" y2="238.5"/>
<line x1="709.00" y1="242.5" x2="713.40" y2="238.5"/>
<line x1="625.0" y1="242.5" x2="754.0" y2="242.5"/>
<line x1="572.40" y1="247.5" x2="576.80" y2="242.5"/>
<line x1="628.90" y1="247.5" x2="633.30" y2="242.5"/>
<line x1="685.40" y1="247.5" x2="689.80" y2="242.5"/>
<line x1="741.90" y1="247.5" x2="746.30" y2="242.5"/>
<line x1="625.0" y1="247.5" x2="754.0" y2="247.5"/>
<line x1="605.30" y1="251.5" x2="609.70" y2="247.5"/>
<line x1="661.80" y1="251.5" x2="666.20" y2="247.5"/>
<line x1="718.30" y1="251.5" x2="722.70" y2="247.5"/>
<line x1="625.0" y1="251.5" x2="754.0" y2="251.5"/>
<line x1="581.70" y1="256.5" x2="586.10" y2="251.5"/>
<line x1="638.20" y1="256.5" x2="642.60" y2="251.5"/>
<line x1="694.70" y1="256.5" x2="699.10" y2="251.5"/>
<line x1="751.20" y1="256.5" x2="755.60" y2="251.5"/>
<line x1="625.0" y1="256.5" x2="754.0" y2="256.5"/>
<line x1="614.60" y1="261.5" x2="619.00" y2="256.5"/>
<line x1="671.10" y1="261.5" x2="675.50" y2="256.5"/>
<line x1="727.60" y1="261.5" x2="732.00" y2="256.5"/>
<line x1="625.0" y1="261.5" x2="754.0" y2="261.5"/>
<line x1="591.00" y1="265.5" x2="595.40" y2="261.5"/>
<line x1="647.50" y1="265.5" x2="651.90" y2="261.5"/>
<line x1="704.00" y1="265.5" x2="708.40" y2="261.5"/>
<line x1="625.0" y1="265.5" x2="754.0" y2="265.5"/>
<line x1="567.40" y1="270.5" x2="571.80" y2="265.5"/>
<line x1="623.90" y1="270.5" x2="628.30" y2="265.5"/>
<line x1="680.40" y1="270.5" x2="684.80" y2="265.5"/>
<line x1="736.90" y1="270.5" x2="741.30" y2="265.5"/>
<line x1="625.0" y1="270.5" x2="754.0" y2="270.5"/>
<line x1="600.30" y1="274.5" x2="604.70" y2="270.5"/>
<line x1="656.80" y1="274.5" x2="661.20" y2="270.5"/>
<line x1="713.30" y1="274.5" x2="717.70" y2="270.5"/>
<line x1="625.0" y1="274.5" x2="754.0" y2="274.5"/>
<line x1="576.70" y1="279.5" x2="581.10" y2="274.5"/>
<line x1="633.20" y1="279.5" x2="637.60" y2="274.5"/>
<line x1="689.70" y1="279.5" x2="694.10" y2="274.5"/>
<line x1="746.20" y1="279.5" x2="750.60" y2="274.5"/>
</g>
<g clip-path="url(#cBath)" stroke="#111" stroke-width="1.05" fill="none">
<path d="M397.50 80.06 L402.90 85.66 L408.30 80.06"/>
<path d="M413.30 80.06 L418.70 85.66 L424.10 80.06"/>
<path d="M429.10 80.06 L434.50 85.66 L439.90 80.06"/>
<path d="M444.90 80.06 L450.30 85.66 L455.70 80.06"/>
<path d="M460.70 80.06 L466.10 85.66 L471.50 80.06"/>
<path d="M476.50 80.06 L481.90 85.66 L487.30 80.06"/>
<path d="M492.30 80.06 L497.70 85.66 L503.10 80.06"/>
<path d="M508.10 80.06 L513.50 85.66 L518.90 80.06"/>
<path d="M523.90 80.06 L529.30 85.66 L534.70 80.06"/>
<path d="M539.70 80.06 L545.10 85.66 L550.50 80.06"/>
<path d="M555.50 80.06 L560.90 85.66 L566.30 80.06"/>
<path d="M571.30 80.06 L576.70 85.66 L582.10 80.06"/>
<path d="M389.60 88.21 L395.00 93.81 L400.40 88.21"/>
<path d="M405.40 88.21 L410.80 93.81 L416.20 88.21"/>
<path d="M421.20 88.21 L426.60 93.81 L432.00 88.21"/>
<path d="M437.00 88.21 L442.40 93.81 L447.80 88.21"/>
<path d="M452.80 88.21 L458.20 93.81 L463.60 88.21"/>
<path d="M468.60 88.21 L474.00 93.81 L479.40 88.21"/>
<path d="M484.40 88.21 L489.80 93.81 L495.20 88.21"/>
<path d="M500.20 88.21 L505.60 93.81 L511.00 88.21"/>
<path d="M516.00 88.21 L521.40 93.81 L526.80 88.21"/>
<path d="M531.80 88.21 L537.20 93.81 L542.60 88.21"/>
<path d="M547.60 88.21 L553.00 93.81 L558.40 88.21"/>
<path d="M563.40 88.21 L568.80 93.81 L574.20 88.21"/>
<path d="M397.50 96.36 L402.90 101.96 L408.30 96.36"/>
<path d="M413.30 96.36 L418.70 101.96 L424.10 96.36"/>
<path d="M429.10 96.36 L434.50 101.96 L439.90 96.36"/>
<path d="M444.90 96.36 L450.30 101.96 L455.70 96.36"/>
<path d="M460.70 96.36 L466.10 101.96 L471.50 96.36"/>
<path d="M476.50 96.36 L481.90 101.96 L487.30 96.36"/>
<path d="M492.30 96.36 L497.70 101.96 L503.10 96.36"/>
<path d="M508.10 96.36 L513.50 101.96 L518.90 96.36"/>
<path d="M523.90 96.36 L529.30 101.96 L534.70 96.36"/>
<path d="M539.70 96.36 L545.10 101.96 L550.50 96.36"/>
<path d="M555.50 96.36 L560.90 101.96 L566.30 96.36"/>
<path d="M571.30 96.36 L576.70 101.96 L582.10 96.36"/>
<path d="M389.60 104.51 L395.00 110.11 L400.40 104.51"/>
<path d="M405.40 104.51 L410.80 110.11 L416.20 104.51"/>
<path d="M421.20 104.51 L426.60 110.11 L432.00 104.51"/>
<path d="M437.00 104.51 L442.40 110.11 L447.80 104.51"/>
<path d="M452.80 104.51 L458.20 110.11 L463.60 104.51"/>
<path d="M468.60 104.51 L474.00 110.11 L479.40 104.51"/>
<path d="M484.40 104.51 L489.80 110.11 L495.20 104.51"/>
<path d="M500.20 104.51 L505.60 110.11 L511.00 104.51"/>
<path d="M516.00 104.51 L521.40 110.11 L526.80 104.51"/>
<path d="M531.80 104.51 L537.20 110.11 L542.60 104.51"/>
<path d="M547.60 104.51 L553.00 110.11 L558.40 104.51"/>
<path d="M563.40 104.51 L568.80 110.11 L574.20 104.51"/>
<path d="M397.50 112.66 L402.90 118.26 L408.30 112.66"/>
<path d="M413.30 112.66 L418.70 118.26 L424.10 112.66"/>
<path d="M429.10 112.66 L434.50 118.26 L439.90 112.66"/>
<path d="M444.90 112.66 L450.30 118.26 L455.70 112.66"/>
<path d="M460.70 112.66 L466.10 118.26 L471.50 112.66"/>
<path d="M476.50 112.66 L481.90 118.26 L487.30 112.66"/>
<path d="M492.30 112.66 L497.70 118.26 L503.10 112.66"/>
<path d="M508.10 112.66 L513.50 118.26 L518.90 112.66"/>
<path d="M523.90 112.66 L529.30 118.26 L534.70 112.66"/>
<path d="M539.70 112.66 L545.10 118.26 L550.50 112.66"/>
<path d="M555.50 112.66 L560.90 118.26 L566.30 112.66"/>
<path d="M571.30 112.66 L576.70 118.26 L582.10 112.66"/>
<path d="M389.60 120.81 L395.00 126.41 L400.40 120.81"/>
<path d="M405.40 120.81 L410.80 126.41 L416.20 120.81"/>
<path d="M421.20 120.81 L426.60 126.41 L432.00 120.81"/>
<path d="M437.00 120.81 L442.40 126.41 L447.80 120.81"/>
<path d="M452.80 120.81 L458.20 126.41 L463.60 120.81"/>
<path d="M468.60 120.81 L474.00 126.41 L479.40 120.81"/>
<path d="M484.40 120.81 L489.80 126.41 L495.20 120.81"/>
<path d="M500.20 120.81 L505.60 126.41 L511.00 120.81"/>
<path d="M516.00 120.81 L521.40 126.41 L526.80 120.81"/>
<path d="M531.80 120.81 L537.20 126.41 L542.60 120.81"/>
<path d="M547.60 120.81 L553.00 126.41 L558.40 120.81"/>
<path d="M563.40 120.81 L568.80 126.41 L574.20 120.81"/>
<path d="M397.50 128.96 L402.90 134.56 L408.30 128.96"/>
<path d="M413.30 128.96 L418.70 134.56 L424.10 128.96"/>
<path d="M429.10 128.96 L434.50 134.56 L439.90 128.96"/>
<path d="M444.90 128.96 L450.30 134.56 L455.70 128.96"/>
<path d="M460.70 128.96 L466.10 134.56 L471.50 128.96"/>
<path d="M476.50 128.96 L481.90 134.56 L487.30 128.96"/>
<path d="M492.30 128.96 L497.70 134.56 L503.10 128.96"/>
<path d="M508.10 128.96 L513.50 134.56 L518.90 128.96"/>
<path d="M523.90 128.96 L529.30 134.56 L534.70 128.96"/>
<path d="M539.70 128.96 L545.10 134.56 L550.50 128.96"/>
<path d="M555.50 128.96 L560.90 134.56 L566.30 128.96"/>
<path d="M571.30 128.96 L576.70 134.56 L582.10 128.96"/>
<path d="M389.60 137.11 L395.00 142.71 L400.40 137.11"/>
<path d="M405.40 137.11 L410.80 142.71 L416.20 137.11"/>
<path d="M421.20 137.11 L426.60 142.71 L432.00 137.11"/>
<path d="M437.00 137.11 L442.40 142.71 L447.80 137.11"/>
<path d="M452.80 137.11 L458.20 142.71 L463.60 137.11"/>
<path d="M468.60 137.11 L474.00 142.71 L479.40 137.11"/>
<path d="M484.40 137.11 L489.80 142.71 L495.20 137.11"/>
<path d="M500.20 137.11 L505.60 142.71 L511.00 137.11"/>
<path d="M516.00 137.11 L521.40 142.71 L526.80 137.11"/>
<path d="M531.80 137.11 L537.20 142.71 L542.60 137.11"/>
<path d="M547.60 137.11 L553.00 142.71 L558.40 137.11"/>
<path d="M563.40 137.11 L568.80 142.71 L574.20 137.11"/>
<path d="M397.50 145.26 L402.90 150.86 L408.30 145.26"/>
<path d="M413.30 145.26 L418.70 150.86 L424.10 145.26"/>
<path d="M429.10 145.26 L434.50 150.86 L439.90 145.26"/>
<path d="M444.90 145.26 L450.30 150.86 L455.70 145.26"/>
<path d="M460.70 145.26 L466.10 150.86 L471.50 145.26"/>
<path d="M476.50 145.26 L481.90 150.86 L487.30 145.26"/>
<path d="M492.30 145.26 L497.70 150.86 L503.10 145.26"/>
<path d="M508.10 145.26 L513.50 150.86 L518.90 145.26"/>
<path d="M523.90 145.26 L529.30 150.86 L534.70 145.26"/>
<path d="M539.70 145.26 L545.10 150.86 L550.50 145.26"/>
<path d="M555.50 145.26 L560.90 150.86 L566.30 145.26"/>
<path d="M571.30 145.26 L576.70 150.86 L582.10 145.26"/>
<path d="M389.60 153.41 L395.00 159.01 L400.40 153.41"/>
<path d="M405.40 153.41 L410.80 159.01 L416.20 153.41"/>
<path d="M421.20 153.41 L426.60 159.01 L432.00 153.41"/>
<path d="M437.00 153.41 L442.40 159.01 L447.80 153.41"/>
<path d="M452.80 153.41 L458.20 159.01 L463.60 153.41"/>
<path d="M468.60 153.41 L474.00 159.01 L479.40 153.41"/>
<path d="M484.40 153.41 L489.80 159.01 L495.20 153.41"/>
<path d="M500.20 153.41 L505.60 159.01 L511.00 153.41"/>
<path d="M516.00 153.41 L521.40 159.01 L526.80 153.41"/>
<path d="M531.80 153.41 L537.20 159.01 L542.60 153.41"/>
<path d="M547.60 153.41 L553.00 159.01 L558.40 153.41"/>
<path d="M563.40 153.41 L568.80 159.01 L574.20 153.41"/>
<path d="M397.50 161.56 L402.90 167.16 L408.30 161.56"/>
<path d="M413.30 161.56 L418.70 167.16 L424.10 161.56"/>
<path d="M429.10 161.56 L434.50 167.16 L439.90 161.56"/>
<path d="M444.90 161.56 L450.30 167.16 L455.70 161.56"/>
<path d="M460.70 161.56 L466.10 167.16 L471.50 161.56"/>
<path d="M476.50 161.56 L481.90 167.16 L487.30 161.56"/>
<path d="M492.30 161.56 L497.70 167.16 L503.10 161.56"/>
<path d="M508.10 161.56 L513.50 167.16 L518.90 161.56"/>
<path d="M523.90 161.56 L529.30 167.16 L534.70 161.56"/>
<path d="M539.70 161.56 L545.10 167.16 L550.50 161.56"/>
<path d="M555.50 161.56 L560.90 167.16 L566.30 161.56"/>
<path d="M571.30 161.56 L576.70 167.16 L582.10 161.56"/>
</g>
<g clip-path="url(#cWC)" stroke="#111" stroke-width="1.0">
<line x1="614.19" y1="187.63" x2="631.59" y2="170.23"/>
<line x1="614.19" y1="176.03" x2="631.59" y2="158.63"/>
<line x1="591.00" y1="187.63" x2="608.39" y2="170.23"/>
<line x1="614.19" y1="164.43" x2="631.59" y2="147.04"/>
<line x1="591.00" y1="176.03" x2="608.39" y2="158.63"/>
<line x1="614.19" y1="152.84" x2="631.59" y2="135.44"/>
<line x1="567.81" y1="187.63" x2="585.20" y2="170.23"/>
<line x1="591.00" y1="164.43" x2="608.39" y2="147.04"/>
<line x1="614.19" y1="141.24" x2="631.59" y2="123.85"/>
<line x1="567.81" y1="176.03" x2="585.20" y2="158.63"/>
<line x1="591.00" y1="152.84" x2="608.39" y2="135.44"/>
<line x1="614.19" y1="129.64" x2="631.59" y2="112.25"/>
<line x1="544.61" y1="187.63" x2="562.01" y2="170.23"/>
<line x1="567.81" y1="164.43" x2="585.20" y2="147.04"/>
<line x1="591.00" y1="141.24" x2="608.39" y2="123.85"/>
<line x1="614.19" y1="118.05" x2="631.59" y2="100.65"/>
<line x1="544.61" y1="176.03" x2="562.01" y2="158.63"/>
<line x1="567.81" y1="152.84" x2="585.20" y2="135.44"/>
<line x1="591.00" y1="129.64" x2="608.39" y2="112.25"/>
<line x1="614.19" y1="106.45" x2="631.59" y2="89.06"/>
<line x1="544.61" y1="164.43" x2="562.01" y2="147.04"/>
<line x1="567.81" y1="141.24" x2="585.20" y2="123.85"/>
<line x1="591.00" y1="118.05" x2="608.39" y2="100.65"/>
<line x1="544.61" y1="152.84" x2="562.01" y2="135.44"/>
<line x1="567.81" y1="129.64" x2="585.20" y2="112.25"/>
<line x1="591.00" y1="106.45" x2="608.39" y2="89.06"/>
<line x1="544.61" y1="141.24" x2="562.01" y2="123.85"/>
<line x1="567.81" y1="118.05" x2="585.20" y2="100.65"/>
<line x1="544.61" y1="129.64" x2="562.01" y2="112.25"/>
<line x1="567.81" y1="106.45" x2="585.20" y2="89.06"/>
<line x1="544.61" y1="118.05" x2="562.01" y2="100.65"/>
<line x1="544.61" y1="106.45" x2="562.01" y2="89.06"/>
<line x1="573.61" y1="181.83" x2="556.21" y2="164.43"/>
<line x1="573.61" y1="170.23" x2="556.21" y2="152.84"/>
<line x1="596.80" y1="181.83" x2="579.40" y2="164.43"/>
<line x1="573.61" y1="158.63" x2="556.21" y2="141.24"/>
<line x1="596.80" y1="170.23" x2="579.40" y2="152.84"/>
<line x1="573.61" y1="147.04" x2="556.21" y2="129.64"/>
<line x1="619.99" y1="181.83" x2="602.60" y2="164.43"/>
<line x1="596.80" y1="158.63" x2="579.40" y2="141.24"/>
<line x1="573.61" y1="135.44" x2="556.21" y2="118.05"/>
<line x1="619.99" y1="170.23" x2="602.60" y2="152.84"/>
<line x1="596.80" y1="147.04" x2="579.40" y2="129.64"/>
<line x1="573.61" y1="123.85" x2="556.21" y2="106.45"/>
<line x1="619.99" y1="158.63" x2="602.60" y2="141.24"/>
<line x1="596.80" y1="135.44" x2="579.40" y2="118.05"/>
<line x1="573.61" y1="112.25" x2="556.21" y2="94.85"/>
<line x1="619.99" y1="147.04" x2="602.60" y2="129.64"/>
<line x1="596.80" y1="123.85" x2="579.40" y2="106.45"/>
<line x1="573.61" y1="100.65" x2="556.21" y2="83.26"/>
<line x1="619.99" y1="135.44" x2="602.60" y2="118.05"/>
<line x1="596.80" y1="112.25" x2="579.40" y2="94.85"/>
<line x1="619.99" y1="123.85" x2="602.60" y2="106.45"/>
<line x1="596.80" y1="100.65" x2="579.40" y2="83.26"/>
<line x1="619.99" y1="112.25" x2="602.60" y2="94.85"/>
<line x1="619.99" y1="100.65" x2="602.60" y2="83.26"/>
</g>
<g clip-path="url(#cSink)" stroke="#111" stroke-width="1.0">
<line x1="572.00" y1="162.50" x2="622.00" y2="112.50"/>
<line x1="572.00" y1="182.70" x2="622.00" y2="132.70"/>
<line x1="572.00" y1="202.90" x2="622.00" y2="152.90"/>
<line x1="572.00" y1="223.10" x2="622.00" y2="173.10"/>
<line x1="572.00" y1="243.30" x2="622.00" y2="193.30"/>
<line x1="572.00" y1="263.50" x2="622.00" y2="213.50"/>
<line x1="572.00" y1="283.70" x2="622.00" y2="233.70"/>
<line x1="572.00" y1="251.50" x2="622.00" y2="301.50"/>
<line x1="572.00" y1="231.30" x2="622.00" y2="281.30"/>
<line x1="572.00" y1="211.10" x2="622.00" y2="261.10"/>
<line x1="572.00" y1="190.90" x2="622.00" y2="240.90"/>
<line x1="572.00" y1="170.70" x2="622.00" y2="220.70"/>
<line x1="572.00" y1="150.50" x2="622.00" y2="200.50"/>
<line x1="572.00" y1="130.30" x2="622.00" y2="180.30"/>
<line x1="572.00" y1="110.10" x2="622.00" y2="160.10"/>
</g>
<g clip-path="url(#cBal)" stroke="#111" stroke-width="1.0">
<line x1="621.00" y1="267.25" x2="680.00" y2="208.25"/>
<line x1="621.00" y1="280.00" x2="680.00" y2="221.00"/>
<line x1="621.00" y1="292.75" x2="680.00" y2="233.75"/>
<line x1="621.00" y1="305.50" x2="680.00" y2="246.50"/>
<line x1="621.00" y1="318.25" x2="680.00" y2="259.25"/>
<line x1="621.00" y1="331.00" x2="680.00" y2="272.00"/>
<line x1="621.00" y1="343.75" x2="680.00" y2="284.75"/>
<line x1="621.00" y1="356.50" x2="680.00" y2="297.50"/>
<line x1="621.00" y1="369.25" x2="680.00" y2="310.25"/>
<line x1="621.00" y1="382.00" x2="680.00" y2="323.00"/>
<line x1="621.00" y1="394.75" x2="680.00" y2="335.75"/>
<line x1="621.00" y1="407.50" x2="680.00" y2="348.50"/>
<line x1="621.00" y1="348.75" x2="680.00" y2="407.75"/>
<line x1="621.00" y1="336.00" x2="680.00" y2="395.00"/>
<line x1="621.00" y1="323.25" x2="680.00" y2="382.25"/>
<line x1="621.00" y1="310.50" x2="680.00" y2="369.50"/>
<line x1="621.00" y1="297.75" x2="680.00" y2="356.75"/>
<line x1="621.00" y1="285.00" x2="680.00" y2="344.00"/>
<line x1="621.00" y1="272.25" x2="680.00" y2="331.25"/>
<line x1="621.00" y1="259.50" x2="680.00" y2="318.50"/>
<line x1="621.00" y1="246.75" x2="680.00" y2="305.75"/>
<line x1="621.00" y1="234.00" x2="680.00" y2="293.00"/>
<line x1="621.00" y1="221.25" x2="680.00" y2="280.25"/>
<line x1="621.00" y1="208.50" x2="680.00" y2="267.50"/>
</g>
<rect x="121.5" y="270.5" width="13.0" height="28.0" fill="none" stroke="#000" stroke-width="1"/>
<line x1="121.00" y1="270.50" x2="451.00" y2="270.50" stroke="#000" stroke-width="1" />
<line x1="134.00" y1="278.50" x2="171.00" y2="278.50" stroke="#000" stroke-width="1" />
<line x1="190.00" y1="278.50" x2="454.00" y2="278.50" stroke="#000" stroke-width="1" />
<path d="M190.50 278.00 L190.50 302.50 L170.50 302.50 L170.50 270.50" fill="none" stroke="#000" stroke-width="1" />
<line x1="126.50" y1="298.00" x2="126.50" y2="429.00" stroke="#000" stroke-width="1" />
<line x1="126.00" y1="428.50" x2="168.00" y2="428.50" stroke="#000" stroke-width="1" />
<line x1="134.50" y1="298.00" x2="134.50" y2="421.00" stroke="#000" stroke-width="1" />
<line x1="134.00" y1="420.50" x2="168.00" y2="420.50" stroke="#000" stroke-width="1" />
<line x1="167.50" y1="404.00" x2="167.50" y2="456.00" stroke="#000" stroke-width="1" />
<line x1="167.00" y1="404.50" x2="191.00" y2="404.50" stroke="#000" stroke-width="1" />
<line x1="190.50" y1="302.00" x2="190.50" y2="446.00" stroke="#000" stroke-width="1" />
<line x1="184.50" y1="302.00" x2="184.50" y2="405.00" stroke="#333" stroke-width="1" />
<line x1="186.50" y1="302.00" x2="186.50" y2="405.00" stroke="#333" stroke-width="1" />
<line x1="188.50" y1="302.00" x2="188.50" y2="405.00" stroke="#333" stroke-width="1" />
<line x1="190.00" y1="445.50" x2="499.00" y2="445.50" stroke="#000" stroke-width="1" />
<line x1="167.00" y1="455.50" x2="509.00" y2="455.50" stroke="#000" stroke-width="1" />
<path d="M190.50 445.00 L254.80 325.70 L416.00 278.00" fill="none" stroke="#000" stroke-width="1" />
<path d="M239.50 270.50 L239.50 151.50 L272.50 151.50 L272.50 125.50 L416.50 125.50 L416.50 93.50 L624.50 93.50 L624.50 148.00 L761.50 148.00 L761.50 278.50 L687.50 278.50 L687.50 351.50 L626.50 351.50 L626.50 410.50 L508.50 410.50 L508.50 455.50" fill="none" stroke="#000" stroke-width="1" />
<path d="M247.50 270.50 L247.50 159.50 L280.50 159.50" fill="none" stroke="#000" stroke-width="1" />
<line x1="280.50" y1="133.00" x2="280.50" y2="271.00" stroke="#000" stroke-width="1" />
<line x1="280.00" y1="133.50" x2="417.00" y2="133.50" stroke="#000" stroke-width="1" />
<line x1="416.50" y1="133.00" x2="416.50" y2="164.00" stroke="#000" stroke-width="1" />
<line x1="241.50" y1="166.00" x2="241.50" y2="255.00" stroke="#333" stroke-width="1" />
<line x1="244.50" y1="166.00" x2="244.50" y2="255.00" stroke="#333" stroke-width="1" />
<line x1="239.00" y1="166.50" x2="248.00" y2="166.50" stroke="#000" stroke-width="1" />
<line x1="239.00" y1="254.50" x2="248.00" y2="254.50" stroke="#000" stroke-width="1" />
<rect x="424.5" y="101.5" width="125.0" height="57.0" fill="none" stroke="#000" stroke-width="1"/>
<line x1="424.50" y1="158.00" x2="424.50" y2="164.00" stroke="#000" stroke-width="1" />
<line x1="416.00" y1="163.50" x2="451.00" y2="163.50" stroke="#000" stroke-width="1" />
<rect x="556.5" y="101.5" width="61.0" height="70.0" fill="none" stroke="#000" stroke-width="1"/>
<rect x="556.5" y="178.5" width="60.0" height="38.0" fill="none" stroke="#000" stroke-width="1"/>
<line x1="419.50" y1="101.00" x2="419.50" y2="124.00" stroke="#333" stroke-width="1" />
<line x1="421.50" y1="101.00" x2="421.50" y2="124.00" stroke="#333" stroke-width="1" />
<line x1="416.00" y1="101.50" x2="425.00" y2="101.50" stroke="#000" stroke-width="1" />
<line x1="416.00" y1="123.50" x2="425.00" y2="123.50" stroke="#000" stroke-width="1" />
<line x1="618.50" y1="112.00" x2="618.50" y2="146.00" stroke="#333" stroke-width="1" />
<line x1="620.50" y1="112.00" x2="620.50" y2="146.00" stroke="#333" stroke-width="1" />
<line x1="622.50" y1="112.00" x2="622.50" y2="146.00" stroke="#333" stroke-width="1" />
<line x1="617.00" y1="112.50" x2="625.00" y2="112.50" stroke="#000" stroke-width="1" />
<line x1="617.00" y1="145.50" x2="625.00" y2="145.50" stroke="#000" stroke-width="1" />
<line x1="449.50" y1="163.00" x2="449.50" y2="234.00" stroke="#000" stroke-width="1" />
<line x1="454.50" y1="216.00" x2="454.50" y2="234.00" stroke="#000" stroke-width="1" />
<line x1="449.00" y1="233.50" x2="455.00" y2="233.50" stroke="#000" stroke-width="1" />
<line x1="449.00" y1="216.50" x2="550.00" y2="216.50" stroke="#000" stroke-width="1" />
<line x1="454.00" y1="222.50" x2="617.00" y2="222.50" stroke="#000" stroke-width="1" />
<line x1="549.50" y1="158.00" x2="549.50" y2="217.00" stroke="#000" stroke-width="1" />
<line x1="617.50" y1="171.00" x2="617.50" y2="179.00" stroke="#000" stroke-width="1" />
<line x1="617.50" y1="216.00" x2="617.50" y2="271.00" stroke="#000" stroke-width="1" />
<path d="M625.50 156.00 L754.00 156.00 L754.00 269.80 L625.50 269.80 Z" fill="none" stroke="#000" stroke-width="1" />
<line x1="756.50" y1="179.00" x2="756.50" y2="247.00" stroke="#333" stroke-width="1" />
<line x1="759.50" y1="179.00" x2="759.50" y2="247.00" stroke="#333" stroke-width="1" />
<line x1="754.00" y1="179.50" x2="762.00" y2="179.50" stroke="#000" stroke-width="1" />
<line x1="754.00" y1="246.50" x2="762.00" y2="246.50" stroke="#000" stroke-width="1" />
<line x1="450.50" y1="267.00" x2="450.50" y2="271.00" stroke="#000" stroke-width="1" />
<line x1="450.00" y1="267.50" x2="456.00" y2="267.50" stroke="#000" stroke-width="1" />
<line x1="455.50" y1="267.00" x2="455.50" y2="279.00" stroke="#000" stroke-width="1" />
<line x1="453.50" y1="278.00" x2="453.50" y2="332.00" stroke="#000" stroke-width="1" />
<line x1="455.50" y1="278.00" x2="455.50" y2="330.00" stroke="#000" stroke-width="1" />
<line x1="455.00" y1="329.50" x2="499.00" y2="329.50" stroke="#000" stroke-width="1" />
<line x1="453.00" y1="331.50" x2="459.00" y2="331.50" stroke="#000" stroke-width="1" />
<line x1="498.50" y1="270.00" x2="498.50" y2="446.00" stroke="#000" stroke-width="1" />
<line x1="505.50" y1="277.00" x2="505.50" y2="402.00" stroke="#000" stroke-width="1" />
<line x1="498.00" y1="270.50" x2="509.00" y2="270.50" stroke="#000" stroke-width="1" />
<line x1="508.50" y1="270.00" x2="508.50" y2="278.00" stroke="#000" stroke-width="1" />
<line x1="505.00" y1="277.50" x2="509.00" y2="277.50" stroke="#000" stroke-width="1" />
<line x1="541.00" y1="270.50" x2="618.00" y2="270.50" stroke="#000" stroke-width="1" />
<line x1="541.50" y1="270.00" x2="541.50" y2="279.00" stroke="#000" stroke-width="1" />
<line x1="541.00" y1="278.50" x2="618.00" y2="278.50" stroke="#000" stroke-width="1" />
<line x1="625.00" y1="278.50" x2="688.00" y2="278.50" stroke="#000" stroke-width="1" />
<line x1="626.50" y1="278.00" x2="626.50" y2="352.00" stroke="#000" stroke-width="1" />
<line x1="505.50" y1="278.00" x2="505.50" y2="402.00" stroke="#000" stroke-width="1" />
<line x1="505.00" y1="401.50" x2="627.00" y2="401.50" stroke="#000" stroke-width="1" />
<line x1="617.50" y1="278.00" x2="617.50" y2="402.00" stroke="#000" stroke-width="1" />
<line x1="619.50" y1="351.00" x2="619.50" y2="402.00" stroke="#333" stroke-width="1" />
<line x1="621.50" y1="351.00" x2="621.50" y2="402.00" stroke="#333" stroke-width="1" />
<line x1="624.50" y1="351.00" x2="624.50" y2="402.00" stroke="#333" stroke-width="1" />
<path d="M678.5 278.5 H682.5 V346 H626 V341 H678.5 Z" fill="#000"/>
<line x1="675.50" y1="278.00" x2="675.50" y2="339.00" stroke="#000" stroke-width="1" />
<line x1="626.00" y1="338.50" x2="676.00" y2="338.50" stroke="#000" stroke-width="1" />
<rect x="307.4" y="193.6" width="82.2" height="29.4" fill="#fff" stroke="#000" stroke-width="1.7"/>
<path d="M306.5 224.6 H390.5" stroke="#000" stroke-width="1.2" stroke-dasharray="1.2 1.1"/>
<path d="M309 220.8 q3.3 -2.6 6.6 0 q3.3 -2.6 6.6 0 q3.3 -2.6 6.6 0 q3.3 -2.6 6.6 0 q3.3 -2.6 6.6 0 q3.3 -2.6 6.6 0 q3.3 -2.6 6.6 0 q3.3 -2.6 6.6 0 q3.3 -2.6 6.6 0 q3.3 -2.6 6.6 0 q3.3 -2.6 6.6 0 q3.3 -2.6 6.6 0" fill="none" stroke="#000" stroke-width="1"/>
<circle cx="322.8" cy="214.2" r="0.9" fill="#000"/>
<circle cx="336.0" cy="214.2" r="0.9" fill="#000"/>
<circle cx="349.2" cy="214.2" r="0.9" fill="#000"/>
<circle cx="362.4" cy="214.2" r="0.9" fill="#000"/>
<circle cx="375.6" cy="214.2" r="0.9" fill="#000"/>
<path d="M308 198.0 h2.2 M389 198.0 h-2.2" stroke="#000" stroke-width="1.1"/>
<path d="M308 204.6 h2.2 M389 204.6 h-2.2" stroke="#000" stroke-width="1.1"/>
<path d="M308 211.2 h2.2 M389 211.2 h-2.2" stroke="#000" stroke-width="1.1"/>
<path d="M308 217.8 h2.2 M389 217.8 h-2.2" stroke="#000" stroke-width="1.1"/>
<rect x="296.5" y="133.5" width="19.0" height="18.0" fill="#fff" stroke="#000" stroke-width="1"/>
<circle cx="306" cy="142.5" r="2.2" fill="none" stroke="#000" stroke-width="0.9"/>
<line x1="302.20" y1="142.50" x2="309.80" y2="142.50" stroke="#000" stroke-width="0.9" />
<line x1="306.00" y1="138.70" x2="306.00" y2="147.10" stroke="#000" stroke-width="0.9" />
<rect x="382.5" y="133.5" width="18.0" height="18.0" fill="#fff" stroke="#000" stroke-width="1"/>
<circle cx="391.5" cy="142.5" r="2.2" fill="none" stroke="#000" stroke-width="0.9"/>
<line x1="387.70" y1="142.50" x2="395.30" y2="142.50" stroke="#000" stroke-width="0.9" />
<line x1="391.50" y1="138.70" x2="391.50" y2="147.10" stroke="#000" stroke-width="0.9" />
<rect x="316.5" y="134.5" width="65.5" height="77" fill="#fff" stroke="#777" stroke-width="2"/>
<rect x="316" y="134" width="66.5" height="78" fill="none" stroke="#111" stroke-width="0.7"/>
<path d="M319.2 136.6 H335.7" stroke="#777" stroke-width="1.6"/>
<path d="M319.7 137.5 V144" stroke="#555" stroke-width="0.8"/>
<path d="M318.7 144.3 L335.7 144 L335.2 136.3 L342.2 135.6 L345.0 144.5 L344.7 150.8 L332.7 151.3 L318.7 150.6 Z" fill="#0a0a0a"/>
<path d="M335.0 145.4 l-0.6 -0.6 M337.4 148.5 l1.1 -0.8 M329.8 145.4 l-0.8 0.0 M320.3 146.2 l0.4 0.1 M325.0 148.1 l0.9 -1.0 M339.0 148.6 l-0.4 -0.7 M342.7 146.9 l-1.1 -0.8 M340.0 148.1 l0.9 0.5 M332.6 149.9 l-0.3 0.1 M339.6 148.2 l1.0 0.2 M336.6 145.5 l-0.8 -0.4 M321.6 146.4 l-1.1 -0.4 M335.0 147.0 l-0.4 -0.6 M326.1 149.7 l0.4 0.2 M337.5 142.5 l-0.9 -0.2 M343.6 141.8 l0.2 0.4 M342.5 142.8 l-0.8 -0.9 M338.6 139.0 l-0.8 0.9 M342.8 139.4 l0.4 -0.2 M343.1 140.4 l-0.7 -0.5 M340.4 139.0 l0.2 0.8 M339.2 138.6 l1.4 0.0 M336.9 137.4 l-1.1 0.3 M342.1 140.2 l-1.2 -0.2 M343.7 141.0 l1.3 0.7 M336.3 142.4 l0.5 0.1" stroke="#ddd" stroke-width="0.8" fill="none"/>
<path d="M351.5 136.6 H368" stroke="#777" stroke-width="1.6"/>
<path d="M352 137.5 V144" stroke="#555" stroke-width="0.8"/>
<path d="M351 144.3 L368 144 L367.5 136.3 L374.5 135.6 L377.3 144.5 L377 150.8 L365 151.3 L351 150.6 Z" fill="#0a0a0a"/>
<path d="M358.4 148.3 l-1.1 -0.1 M362.9 149.8 l1.1 -0.5 M364.0 146.1 l1.2 0.7 M359.2 148.3 l0.3 -0.7 M370.3 147.8 l0.8 0.1 M352.0 146.8 l-1.3 0.9 M373.1 149.2 l-0.5 -0.9 M373.1 149.8 l-1.2 -0.0 M353.7 148.9 l0.7 -0.7 M363.4 147.9 l-0.7 0.7 M362.2 146.3 l0.1 0.5 M356.8 146.8 l1.4 0.3 M362.5 147.7 l-1.1 -0.6 M360.1 148.1 l-0.8 -0.6 M369.0 141.7 l-0.8 0.8 M374.9 137.5 l-0.7 0.3 M370.1 138.0 l1.2 0.1 M372.0 142.9 l0.9 -0.6 M369.2 140.2 l-0.2 -0.1 M374.0 142.1 l1.4 -0.8 M371.5 139.5 l1.0 -0.5 M369.9 140.4 l-0.2 -0.4 M370.4 143.9 l-0.2 0.7 M372.6 137.4 l1.4 0.7 M375.8 143.9 l1.0 -0.7 M372.1 138.6 l-0.3 -0.9" stroke="#ddd" stroke-width="0.8" fill="none"/>
<line x1="334.50" y1="151.00" x2="334.50" y2="212.00" stroke="#000" stroke-width="1" />
<line x1="337.50" y1="151.00" x2="337.50" y2="212.00" stroke="#000" stroke-width="1" />
<rect x="318" y="204.2" width="60" height="2.4" fill="#000"/>
<line x1="318.00" y1="209.50" x2="379.00" y2="209.50" stroke="#333" stroke-width="1" />
<path d="M316.50 161.00 L331.50 151.50 L328.00 166.00 L316.50 161.00" fill="#fff" stroke="#111" stroke-width="0.8" />
<path d="M331.50 151.50 L334.50 154.00" fill="none" stroke="#111" stroke-width="0.8" />
<path d="M368.4 157 C367 175 372 195 380.6 207.5 M368.4 157 L374 155.5 L381 151.5 M378.5 158 C376.5 175 378 195 380.8 206" fill="none" stroke="#111" stroke-width="0.8"/>
<path d="M318 162 C319.5 175 319.5 195 318.2 204" fill="none" stroke="#111" stroke-width="0.8"/>
<line x1="347.50" y1="235.00" x2="347.50" y2="267.00" stroke="#111" stroke-width="0.8" />
<line x1="328.75" y1="242.50" x2="341.00" y2="265.50" stroke="#111" stroke-width="0.8" />
<line x1="367.50" y1="242.50" x2="358.75" y2="265.50" stroke="#111" stroke-width="0.8" />
<rect x="321.5" y="266.5" width="54.0" height="4.0" fill="#fff" stroke="#111" stroke-width="0.9"/>
<circle cx="293.5" cy="257" r="6.34" fill="#000"/>
<path d="M293.5 257.0 L302.75 257.27 M293.5 257.0 L301.60 262.01 M293.5 257.0 L298.44 265.11 M293.5 257.0 L295.56 265.64 M293.5 257.0 L289.37 265.14 M293.5 257.0 L286.70 261.95 M293.5 257.0 L285.18 259.12 M293.5 257.0 L284.76 254.75 M293.5 257.0 L286.49 252.12 M293.5 257.0 L289.67 248.32 M293.5 257.0 L295.05 248.67 M293.5 257.0 L298.78 250.41 M293.5 257.0 L301.07 253.30" stroke="#000" stroke-width="2.6" stroke-linecap="round" fill="none"/>
<path d="M299.79 257.07 l0.8 0.5 M294.53 260.95 l0.8 0.5 M299.75 256.31 l0.8 0.5 M291.89 263.39 l0.8 0.5 M288.03 255.62 l0.8 0.5" stroke="#bbb" stroke-width="0.7" fill="none"/>
<path d="M265.15 167.00 L262.24 168.66 L262.75 170.81 L259.94 170.93 L260.87 174.78 L257.87 173.26 L256.61 176.12 L254.75 173.15 L252.28 175.49 L251.78 172.38 L248.73 173.00 L250.17 169.80 L246.96 169.11 L249.21 167.00 L246.50 164.78 L249.31 163.75 L248.29 160.61 L251.83 161.68 L252.37 158.75 L254.76 160.90 L256.48 158.90 L257.58 161.52 L260.53 159.71 L260.14 162.89 L263.22 162.95 L262.17 165.36 Z" fill="#050505"/>
<path d="M251.38 166.33 l-0.63 -1.14 M254.73 168.51 l0.02 1.20 M254.60 165.25 l0.94 0.71 M254.89 160.83 l0.63 0.70 M251.47 172.28 l1.11 -0.81 M255.63 161.92 l-0.09 0.07 M249.20 167.40 l0.00 0.80 M251.82 171.82 l0.96 -0.09 M249.78 164.41 l0.54 -0.03 M255.99 169.76 l0.48 -0.80 M257.57 165.65 l0.99 -0.46 M260.35 165.67 l0.01 0.04" stroke="#999" stroke-width="0.6" fill="none"/>
<path d="M270.01 173.50 L266.73 174.74 L267.82 176.92 L265.87 177.38 L265.21 179.44 L263.12 177.84 L261.49 180.55 L260.60 177.67 L257.64 179.11 L258.73 175.92 L255.30 175.62 L257.94 173.50 L255.73 171.51 L258.22 170.75 L257.81 168.09 L260.39 168.88 L261.48 166.38 L263.12 169.22 L265.58 166.76 L265.64 169.88 L268.13 169.88 L266.77 172.25 Z" fill="#050505"/>
<path d="M264.47 170.79 l1.05 0.66 M265.68 172.71 l0.48 0.27 M262.23 178.55 l-0.45 0.67 M266.01 172.47 l-0.86 0.78 M261.74 172.16 l-1.08 0.08 M267.31 174.49 l0.02 0.04 M259.38 175.50 l1.00 -0.46" stroke="#999" stroke-width="0.6" fill="none"/>
<path d="M262.00 176.00 L258.00 190.00" fill="none" stroke="#222" stroke-width="0.7" />
<path d="M262.00 176.00 L268.00 190.00 L280.00 190.00" fill="none" stroke="#222" stroke-width="0.7" />
<rect x="255.50" y="190.50" width="16.5" height="16.5" rx="2.8" fill="#050505" transform="rotate(20 263.75 198.75)"/>
<path d="M261.89 195.06 l1.38 -1.71 M264.13 197.33 l0.67 -1.19 M258.87 198.05 l0.68 -1.69 M262.95 202.20 l0.75 -1.53 M265.10 203.48 l1.29 -1.32 M268.78 193.96 l1.63 -1.45 M259.99 194.71 l0.97 -0.82 M260.38 199.61 l1.37 -1.35 M264.25 194.13 l0.67 -1.55" stroke="#aaa" stroke-width="0.6" fill="none" transform="rotate(20 263.75 198.75)"/>
<rect x="257.35" y="232.75" width="16.5" height="16.5" rx="2.8" fill="#050505" transform="rotate(14 265.6 241)"/>
<path d="M262.71 245.88 l0.75 -0.95 M261.22 238.33 l1.80 -1.55 M267.10 240.57 l1.14 -1.21 M262.35 244.49 l0.71 -1.52 M260.53 238.54 l1.09 -0.72 M264.32 236.92 l0.91 -0.61 M260.99 242.27 l1.05 -1.01 M263.89 243.02 l1.20 -1.02 M269.84 241.86 l0.77 -1.72" stroke="#aaa" stroke-width="0.6" fill="none" transform="rotate(14 265.6 241)"/>
<path d="M248.00 196.00 L258.00 189.50 L275.00 192.00 L278.50 207.00 L270.00 211.50 L252.00 211.50 L248.00 196.00" fill="none" stroke="#333" stroke-width="0.6" />
<rect x="247.5" y="211.5" width="30.0" height="17.0" fill="#fff" stroke="#000" stroke-width="1.2"/>
<rect x="251.5" y="214.5" width="23.0" height="11.0" fill="none" stroke="#222" stroke-width="0.7"/>
<circle cx="256" cy="217.5" r="3" fill="none" stroke="#111" stroke-width="0.9"/><circle cx="256" cy="217.5" r="1.3" fill="none" stroke="#111" stroke-width="0.8"/>
<circle cx="267.5" cy="221" r="3" fill="none" stroke="#111" stroke-width="0.9"/><circle cx="267.5" cy="221" r="1.3" fill="none" stroke="#111" stroke-width="0.8"/>
<path d="M262.00 229.00 L266.00 234.00" fill="none" stroke="#222" stroke-width="0.7" />
<path d="M270.00 229.00 L265.00 234.00" fill="none" stroke="#222" stroke-width="0.7" />
<line x1="247.00" y1="238.50" x2="257.00" y2="238.50" stroke="#333" stroke-width="0.8" />
<line x1="247.00" y1="240.50" x2="257.00" y2="240.50" stroke="#333" stroke-width="0.8" />
<path d="M248 262 C256 256 262 258 265 250 M265 250 C266 256 274 254 277 256 M250 270 C253 260 262 256 266 257.5 C272 258 277 262 279 270" fill="none" stroke="#222" stroke-width="0.7"/>
<rect x="424.5" y="101.5" width="42.0" height="21.0" fill="#fff" stroke="#000" stroke-width="1"/>
<ellipse cx="445.5" cy="110.3" rx="7.8" ry="5" fill="#fff" stroke="#000" stroke-width="1.3"/>
<line x1="445.50" y1="102.00" x2="445.50" y2="108.50" stroke="#111" stroke-width="1.4" />
<path d="M484 102.3 H501 L499.8 111.5 L497.6 128.4 Q492.8 131.2 488 128.4 L485.6 111.5 Z" fill="#fff" stroke="#000" stroke-width="1.6"/>
<path d="M485 111.5 H500.4" stroke="#000" stroke-width="1.7"/>
<path d="M485.5 104.2 H499.8" stroke="#333" stroke-width="0.8"/>
<path d="M482.3 102 L484 107.5 M502.8 102 L501.2 107.5 M489.5 129.5 H496" stroke="#000" stroke-width="1.2" fill="none"/>
<rect x="514.5" y="101.2" width="34.7" height="11" fill="#3a3a3a"/>
<path d="M523 157 l2 -3 l1.5 1 l1 -3" stroke="#000" stroke-width="1.2" fill="none"/>
<rect x="426.5" y="159.5" width="23.0" height="4.0" fill="#fff" stroke="#777" stroke-width="0.7"/>
<path d="M432.6 160.2 l-0.3 -0.7 M429.2 160.9 l1.3 0.6 M443.5 160.5 l0.1 -0.4 M431.3 160.2 l-0.9 0.9 M444.8 161.9 l0.9 -0.6 M434.2 161.4 l0.7 0.7 M445.8 160.2 l0.3 0.3 M438.2 160.4 l-0.1 -0.8 M447.0 162.0 l0.1 -0.4 M446.4 161.3 l1.1 0.7 M438.2 161.0 l0.3 -0.1 M431.1 160.7 l0.9 -0.9 M428.7 161.4 l-0.7 0.1 M437.5 160.8 l1.5 -0.6 M436.3 160.5 l0.4 -0.4 M435.1 161.7 l-0.5 0.1 M446.3 160.2 l-1.3 -0.5 M443.5 161.4 l-0.8 -0.3 M431.4 161.1 l-1.4 0.4" stroke="#666" stroke-width="0.7" fill="none"/>
<path d="M560.3 140.2 H568.3 L585.2 143.6 Q588.4 148 585.2 152.6 L568.3 155.6 H560.3 Z" fill="#fff" stroke="#000" stroke-width="1.6"/>
<path d="M568.3 140.5 V155.4" stroke="#000" stroke-width="1.6"/>
<rect x="557.2" y="141" width="2.6" height="14" fill="#666"/>
<path d="M560 139.5 L562.5 136.5 L564.5 139.5 M560 156.5 L562.5 159.5 L564.5 156.5" stroke="#000" stroke-width="1" fill="none"/>
<rect x="556.75" y="161.4" width="20.8" height="9.6" fill="#3a3a3a"/>
<circle cx="559" cy="116" r="1.1" fill="#000"/><circle cx="562.3" cy="118.3" r="1" fill="#000"/><ellipse cx="561" cy="127.6" rx="2.2" ry="1.6" fill="#000"/>
<line x1="559.00" y1="116.00" x2="563.00" y2="118.60" stroke="#000" stroke-width="0.9" />
<rect x="583.5" y="172.5" width="28.0" height="6.0" fill="#fff" stroke="#777" stroke-width="0.7"/>
<path d="M600.2 176.1 l0.9 0.9 M603.3 176.7 l-1.4 -0.1 M608.5 175.8 l1.2 -0.8 M596.2 174.4 l0.1 0.1 M584.4 174.3 l-0.7 0.8 M603.9 174.1 l0.9 -0.7 M600.1 173.9 l-1.5 0.7 M589.5 174.3 l1.4 0.7 M591.6 176.9 l0.1 0.4 M589.4 176.8 l0.6 0.9 M607.2 174.5 l-0.4 -0.7 M587.9 173.7 l-0.6 0.2 M584.2 175.9 l-0.5 -0.4 M605.3 175.2 l-0.6 -0.0 M602.4 173.7 l1.4 -1.0 M603.5 176.5 l-1.4 0.6 M593.6 175.5 l-1.5 -0.9 M588.8 176.8 l-0.9 0.5 M608.2 176.8 l-0.5 -0.3 M597.7 176.2 l-1.2 0.5 M604.7 176.5 l-1.4 0.9 M586.5 174.7 l0.3 0.8 M592.9 176.7 l0.1 -0.4 M592.3 174.1 l-1.3 -0.7 M601.9 177.0 l-1.0 -0.9 M609.7 175.4 l-0.3 -0.5 M599.5 176.4 l-0.1 -0.2 M585.5 176.7 l-1.4 -0.0" stroke="#666" stroke-width="0.7" fill="none"/>
<rect x="583.5" y="216.5" width="34.0" height="5.0" fill="#fff" stroke="#777" stroke-width="0.7"/>
<path d="M609.4 220.3 l-0.0 -0.5 M584.1 219.8 l-0.1 0.5 M596.0 220.2 l-0.7 0.6 M607.4 219.0 l0.1 0.4 M590.3 219.5 l0.9 -0.5 M609.7 219.9 l1.0 -0.3 M587.1 220.3 l0.9 -0.1 M587.1 218.3 l0.4 -0.4 M614.4 219.6 l-0.9 0.3 M595.6 220.7 l1.2 0.0 M604.7 219.9 l0.9 1.0 M585.0 218.9 l0.3 -0.4 M602.9 218.0 l1.1 0.1 M587.8 219.8 l-0.6 -0.6 M599.5 218.1 l-0.9 0.7 M606.4 217.7 l0.8 -1.0 M594.7 220.6 l0.4 -0.4 M596.1 218.9 l-1.1 1.0 M585.8 219.1 l0.7 -0.2 M615.4 218.5 l1.4 0.8 M605.5 220.5 l-0.2 0.7 M609.5 219.4 l-0.1 0.4 M597.1 218.0 l0.7 -0.5 M599.7 220.2 l-1.0 -1.0 M588.0 219.6 l-0.4 -0.5 M598.5 220.7 l-0.7 -0.2 M612.1 219.7 l-0.7 -0.1 M599.4 218.2 l-0.4 -0.4 M609.8 218.7 l0.5 0.9 M613.5 218.9 l0.3 -0.4 M596.8 219.3 l0.9 0.9 M593.4 217.7 l-0.2 -0.9" stroke="#666" stroke-width="0.7" fill="none"/>
<rect x="557" y="178.5" width="21" height="37.5" fill="#fff"/>
<line x1="577.50" y1="178.00" x2="577.50" y2="217.00" stroke="#000" stroke-width="1" />
<ellipse cx="565.7" cy="197" rx="5.2" ry="8.5" fill="#fff" stroke="#111" stroke-width="1.2"/>
<path d="M557.5 196.2 H563 V194.8 L566 197 L563 199.2 V197.8 H557.5 Z" fill="#fff" stroke="#000" stroke-width="0.8"/>
<rect x="454.5" y="166.5" width="37.0" height="21.0" fill="#fff" stroke="#000" stroke-width="1"/>
<line x1="454.50" y1="166.50" x2="491.50" y2="187.50" stroke="#111" stroke-width="0.9" />
<line x1="454.50" y1="187.50" x2="491.50" y2="166.50" stroke="#111" stroke-width="0.9" />
<rect x="491.5" y="166.5" width="36.0" height="21.0" fill="#fff" stroke="#000" stroke-width="1"/>
<line x1="491.50" y1="166.50" x2="527.50" y2="187.50" stroke="#111" stroke-width="0.9" />
<line x1="491.50" y1="187.50" x2="527.50" y2="166.50" stroke="#111" stroke-width="0.9" />
<rect x="527.5" y="166.5" width="22.0" height="21.0" fill="#fff" stroke="#000" stroke-width="1"/>
<line x1="527.50" y1="166.50" x2="549.50" y2="187.50" stroke="#111" stroke-width="0.9" />
<line x1="527.50" y1="187.50" x2="549.50" y2="166.50" stroke="#111" stroke-width="0.9" />
<line x1="454.00" y1="187.50" x2="528.00" y2="187.50" stroke="#000" stroke-width="1.6" />
<rect x="527.5" y="187.5" width="22.0" height="29.0" fill="#fff" stroke="#000" stroke-width="1"/>
<line x1="527.50" y1="187.50" x2="549.25" y2="216.25" stroke="#111" stroke-width="0.9" />
<rect x="626.5" y="156.5" width="20.0" height="36.0" fill="#fff" stroke="#000" stroke-width="1"/>
<line x1="626.50" y1="156.50" x2="646.50" y2="192.50" stroke="#111" stroke-width="0.9" />
<line x1="626.50" y1="192.50" x2="646.50" y2="156.50" stroke="#111" stroke-width="0.9" />
<rect x="626.5" y="192.5" width="20.0" height="36.0" fill="#fff" stroke="#000" stroke-width="1"/>
<line x1="626.50" y1="192.50" x2="646.50" y2="228.50" stroke="#111" stroke-width="0.9" />
<line x1="626.50" y1="228.50" x2="646.50" y2="192.50" stroke="#111" stroke-width="0.9" />
<rect x="626.5" y="156.5" width="20.0" height="72.0" fill="none" stroke="#000" stroke-width="1.3"/>
<rect x="663.5" y="201.8" width="80.2" height="42.8" rx="2.5" fill="#fff" stroke="#000" stroke-width="1.6"/>
<defs><pattern id="dots" width="2" height="2" patternUnits="userSpaceOnUse"><rect width="2" height="2" fill="#fff"/><rect width="1" height="1" fill="#222"/><rect x="1" y="1" width="1" height="1" fill="#555"/></pattern></defs>
<rect x="667.8" y="205.4" width="71.6" height="35.6" fill="url(#dots)" stroke="#000" stroke-width="1.4"/>
<rect x="655.5" y="156.5" width="17.0" height="16.0" fill="#fff" stroke="#000" stroke-width="1.2"/>
<rect x="732.5" y="156.5" width="17.0" height="16.0" fill="#fff" stroke="#000" stroke-width="1.2"/>
<circle cx="664.2" cy="164.2" r="4" fill="none" stroke="#000" stroke-width="1.3"/>
<line x1="657.70" y1="164.20" x2="670.70" y2="164.20" stroke="#000" stroke-width="0.9" />
<line x1="664.20" y1="157.70" x2="664.20" y2="170.70" stroke="#000" stroke-width="0.9" />
<circle cx="741" cy="164.2" r="4" fill="none" stroke="#000" stroke-width="1.3"/>
<line x1="734.50" y1="164.20" x2="747.50" y2="164.20" stroke="#000" stroke-width="0.9" />
<line x1="741.00" y1="157.70" x2="741.00" y2="170.70" stroke="#000" stroke-width="0.9" />
<path d="M675.3 156.5 H730.7 V223.5 Q730.7 226 728.2 226 H677.8 Q675.3 226 675.3 223.5 Z" fill="#fff" stroke="#000" stroke-width="1.2"/>
<line x1="675.00" y1="171.50" x2="731.00" y2="171.50" stroke="#000" stroke-width="1" />
<defs><pattern id="grid" width="3" height="3.4" patternUnits="userSpaceOnUse"><rect width="3" height="3.4" fill="#000"/><rect x="0.9" y="1" width="1.3" height="1.4" fill="#ccc"/></pattern></defs>
<rect x="682" y="158" width="18" height="10.7" fill="url(#grid)"/><rect x="703.2" y="158" width="19" height="10.7" fill="url(#grid)"/>
<defs><pattern id="dots2" width="2.2" height="2.2" patternUnits="userSpaceOnUse"><rect width="2.2" height="2.2" fill="#000"/><rect x="0.5" y="0.5" width="1.15" height="1.15" fill="#fff"/></pattern></defs><path d="M677 171.5 H730.2 V191 L721.5 190 Z" fill="url(#dots2)" stroke="#000" stroke-width="0.9"/>
<path d="M677 172 L722.3 198.3 L729.6 193.6 Q730.5 192 730 191 L721.5 190 Z" fill="#fff" stroke="#000" stroke-width="1"/>
<line x1="700.50" y1="234.00" x2="700.50" y2="265.00" stroke="#111" stroke-width="0.8" />
<line x1="683.00" y1="245.00" x2="695.00" y2="264.00" stroke="#111" stroke-width="0.8" />
<line x1="718.00" y1="245.00" x2="707.00" y2="264.00" stroke="#111" stroke-width="0.8" />
<rect x="673.5" y="265.5" width="56.0" height="4.0" fill="#fff" stroke="#111" stroke-width="0.9"/>
<circle cx="700.5" cy="236" r="1" fill="#000"/>
<path d="M746.40 256.54 L744.50 257.91 L745.83 260.25 L743.08 260.22 L743.04 262.84 L740.83 261.85 L739.41 263.19 L737.95 261.99 L736.10 262.27 L735.47 260.48 L733.64 259.87 L734.37 257.89 L732.28 256.54 L733.64 255.00 L733.58 253.18 L735.62 252.76 L735.71 250.14 L737.83 250.66 L739.41 249.22 L740.84 251.20 L743.33 249.75 L743.06 252.89 L746.07 252.70 L744.64 255.14 Z" fill="#050505"/>
<path d="M740.20 257.56 l-0.46 0.76 M740.88 259.71 l0.33 -0.31 M738.43 256.24 l-1.06 -0.71 M738.24 254.05 l-0.45 0.21 M737.35 257.17 l0.71 0.48 M739.54 260.00 l0.06 0.90 M739.14 254.47 l1.15 -0.92 M735.65 258.67 l-0.84 -0.03" stroke="#999" stroke-width="0.6" fill="none"/>
<path d="M751.64 264.80 L750.34 266.12 L751.40 268.37 L748.95 268.39 L748.36 270.32 L746.48 269.22 L745.03 270.42 L743.75 269.39 L741.67 269.61 L742.13 267.19 L739.90 266.54 L741.04 264.80 L739.57 262.96 L742.11 262.40 L741.99 260.36 L744.03 260.83 L744.96 258.68 L746.55 259.87 L748.47 259.03 L748.67 261.54 L750.84 261.59 L749.93 263.60 Z" fill="#050505"/>
<path d="M747.21 266.99 l-0.83 -0.55 M745.94 267.10 l0.85 -0.63 M744.16 263.36 l-0.50 -0.48 M746.56 260.89 l0.56 0.93 M745.60 263.01 l-0.64 0.16 M742.94 262.43 l0.97 0.71" stroke="#999" stroke-width="0.6" fill="none"/>
<rect x="617.5" y="235.5" width="8.0" height="32.0" fill="#fff" stroke="#777" stroke-width="0.7"/>
<path d="M619.7 265.3 l-1.1 0.4 M618.9 243.5 l1.5 -0.6 M622.0 250.0 l-0.1 -0.0 M619.5 261.3 l-1.2 -0.5 M618.5 244.1 l-0.3 0.8 M620.5 239.5 l-0.7 1.0 M618.8 254.9 l-0.4 0.3 M620.3 257.1 l-0.0 0.3 M623.4 253.7 l-1.1 -0.9 M623.7 250.9 l-0.9 0.9 M621.6 258.2 l1.1 -0.4 M620.4 262.8 l-1.1 0.5 M618.9 257.1 l0.6 0.9 M623.1 251.4 l-0.9 -0.7 M621.4 251.5 l-1.3 0.8 M621.2 257.4 l-0.8 -0.5 M618.5 246.5 l-0.7 -0.2 M620.5 261.4 l1.2 -0.6 M620.6 241.1 l0.5 0.9 M619.5 259.4 l-0.6 -1.0 M622.7 246.4 l-1.0 -0.1 M619.7 248.5 l-0.2 -0.2 M621.7 244.8 l-1.2 -0.8 M619.0 251.9 l-0.4 0.6 M621.2 257.6 l1.4 -0.9 M618.5 240.3 l-0.3 0.1 M622.6 246.7 l1.4 -1.0 M623.1 242.4 l1.1 -0.9 M623.8 259.2 l1.5 0.2 M619.4 265.6 l-0.2 -0.8 M621.8 251.2 l-0.1 -0.7 M619.1 253.7 l-0.1 -0.7 M620.9 258.1 l0.6 -0.1 M620.6 247.0 l-0.8 -0.6 M620.9 239.3 l0.7 0.4 M621.8 236.7 l-0.4 -0.1 M618.9 265.5 l0.8 0.0 M622.3 242.1 l-0.8 0.1 M622.6 255.7 l-1.5 0.2 M623.5 258.7 l1.3 1.0 M619.7 245.0 l0.1 1.0 M620.5 264.7 l1.1 0.0 M621.9 265.2 l0.8 -0.4 M623.1 242.0 l-0.4 0.9" stroke="#666" stroke-width="0.7" fill="none"/>
<rect x="617.5" y="290.5" width="8.0" height="32.0" fill="#fff" stroke="#777" stroke-width="0.7"/>
<path d="M621.0 302.3 l-1.1 0.7 M618.4 306.2 l1.2 -0.8 M621.5 309.7 l-1.4 -0.2 M622.3 304.7 l0.7 -0.7 M619.7 294.4 l0.0 0.8 M621.7 314.5 l-0.3 0.5 M619.0 299.8 l0.5 0.5 M620.8 293.7 l-0.7 -0.6 M620.0 315.5 l-0.9 0.8 M623.3 292.7 l-0.4 -0.0 M618.5 303.9 l1.2 -0.8 M621.7 294.7 l0.2 0.8 M619.5 291.3 l-1.2 0.1 M618.5 293.6 l-0.0 0.8 M620.8 303.1 l0.4 -0.8 M621.6 296.2 l0.3 0.9 M618.7 307.8 l0.3 -0.7 M619.9 321.1 l1.5 -0.8 M622.4 319.8 l-0.8 0.2 M618.6 302.1 l0.5 0.2 M622.7 293.6 l-0.5 0.7 M621.7 304.7 l-0.3 1.0 M621.6 291.6 l0.9 -0.3 M620.8 297.5 l-0.2 -0.4 M618.9 310.1 l-1.2 0.6 M618.5 314.7 l0.9 -0.0 M622.4 298.5 l0.7 -0.1 M619.7 320.2 l-0.3 -0.3 M623.2 302.2 l0.5 -0.7 M623.1 298.8 l-1.3 1.0 M619.4 319.7 l1.5 0.2 M618.5 292.8 l-0.9 -0.2 M621.8 320.3 l-0.4 -0.7 M621.5 295.2 l-1.2 0.1 M622.3 293.0 l-0.1 0.4 M622.7 302.6 l1.2 -0.7 M622.4 314.4 l1.1 -0.0 M619.0 292.5 l0.1 -0.7 M621.9 293.6 l0.8 -0.6 M618.5 296.3 l-0.1 0.1 M620.6 296.2 l-0.1 0.9 M621.4 319.5 l-1.4 1.0 M623.4 307.5 l0.1 0.1" stroke="#666" stroke-width="0.7" fill="none"/>
<rect x="552.5" y="278.5" width="16.0" height="10.0" fill="#fff" stroke="#000" stroke-width="1"/>
<line x1="552.50" y1="278.50" x2="568.50" y2="288.50" stroke="#111" stroke-width="0.9" />
<line x1="552.50" y1="288.50" x2="568.50" y2="278.50" stroke="#111" stroke-width="0.9" />
<rect x="568.5" y="278.5" width="16.0" height="10.0" fill="#fff" stroke="#000" stroke-width="1"/>
<line x1="568.50" y1="278.50" x2="584.50" y2="288.50" stroke="#111" stroke-width="0.9" />
<line x1="568.50" y1="288.50" x2="584.50" y2="278.50" stroke="#111" stroke-width="0.9" />
<rect x="584.5" y="278.5" width="16.0" height="10.0" fill="#fff" stroke="#000" stroke-width="1"/>
<line x1="584.50" y1="278.50" x2="600.50" y2="288.50" stroke="#111" stroke-width="0.9" />
<line x1="584.50" y1="288.50" x2="600.50" y2="278.50" stroke="#111" stroke-width="0.9" />
<rect x="600.5" y="278.5" width="16.0" height="10.0" fill="#fff" stroke="#000" stroke-width="1"/>
<line x1="600.50" y1="278.50" x2="616.50" y2="288.50" stroke="#111" stroke-width="0.9" />
<line x1="600.50" y1="288.50" x2="616.50" y2="278.50" stroke="#111" stroke-width="0.9" />
<rect x="505.5" y="296.5" width="10.0" height="20.0" fill="#fff" stroke="#000" stroke-width="1"/>
<line x1="505.50" y1="296.50" x2="515.50" y2="316.50" stroke="#111" stroke-width="0.9" />
<line x1="505.50" y1="316.50" x2="515.50" y2="296.50" stroke="#111" stroke-width="0.9" />
<rect x="505.5" y="316.5" width="10.0" height="20.0" fill="#fff" stroke="#000" stroke-width="1"/>
<line x1="505.50" y1="316.50" x2="515.50" y2="336.50" stroke="#111" stroke-width="0.9" />
<line x1="505.50" y1="336.50" x2="515.50" y2="316.50" stroke="#111" stroke-width="0.9" />
<rect x="505.5" y="336.5" width="10.0" height="20.0" fill="#fff" stroke="#000" stroke-width="1"/>
<line x1="505.50" y1="336.50" x2="515.50" y2="356.50" stroke="#111" stroke-width="0.9" />
<line x1="505.50" y1="356.50" x2="515.50" y2="336.50" stroke="#111" stroke-width="0.9" />
<rect x="505.5" y="356.5" width="10.0" height="20.0" fill="#fff" stroke="#000" stroke-width="1"/>
<line x1="505.50" y1="356.50" x2="515.50" y2="376.50" stroke="#111" stroke-width="0.9" />
<line x1="505.50" y1="376.50" x2="515.50" y2="356.50" stroke="#111" stroke-width="0.9" />
<rect x="505.5" y="296.5" width="10.0" height="80.0" fill="none" stroke="#000" stroke-width="1.3"/>
<rect x="562.5" y="323.5" width="25" height="71.5" rx="1.5" fill="#fff" stroke="#000" stroke-width="1.3"/>
<rect x="575.6" y="328.6" width="2.6" height="5.2" fill="#777" stroke="#000" stroke-width="1"/><circle cx="570" cy="340.5" r="1.2" fill="#000"/>
<rect x="566.2" y="355.5" width="4.3" height="12.5" fill="#fff" stroke="#000" stroke-width="1.2"/><rect x="567.3" y="362" width="2.2" height="5" fill="#333"/><path d="M572.5 357.5 V368.5" stroke="#555" stroke-width="1"/>
<rect x="567.5" y="370.5" width="9" height="3.6" fill="#888" stroke="#000" stroke-width="1" transform="rotate(-42 572 372.3)"/>
<path d="M536.5 344.8 H551.5 L555.5 349 V366.2 L551.5 370.4 H536.5 L533 366.2 L534.3 357.6 L533 349 Z" fill="#bbb" stroke="#111" stroke-width="1"/>
<path d="M538 347 H550.3 L553 350 V365.2 L550.3 368.2 H538 L535.4 365.2 L536.6 357.6 L535.4 350 Z" fill="#fff" stroke="#111" stroke-width="0.9"/>
<path d="M562 338.5 L558 350.5 M562 376.5 L558 364.5 M557 350 L560.5 352 M557 365 L560.5 363" fill="none" stroke="#222" stroke-width="1"/>
<rect x="556.3" y="353.5" width="3" height="8.5" fill="#ccc" stroke="#222" stroke-width="0.8"/>
<rect x="505.5" y="377.5" width="32" height="23.8" fill="#444"/>
<path d="M507 397 l5 -8 M509.5 398.5 l6 -9.5 M512.5 399 l6 -9" stroke="#ddd" stroke-width="0.8"/>
<rect x="538" y="378" width="24.5" height="17" fill="#fff"/>
<rect x="541.5" y="381.5" width="6" height="8.5" fill="#fff" stroke="#000" stroke-width="1"/><rect x="545.2" y="382.5" width="1.8" height="6.5" fill="#000"/>
<rect x="553.5" y="383.5" width="5" height="4.5" fill="#222"/>
<path d="M612.95 380.26 L611.15 381.85 L612.49 384.47 L609.48 384.54 L609.11 387.04 L606.80 386.25 L605.19 387.63 L603.61 386.16 L601.19 387.19 L600.65 384.80 L598.92 383.88 L599.51 381.78 L597.95 380.26 L598.96 378.59 L598.18 376.21 L601.24 376.30 L600.94 372.89 L603.48 373.86 L605.19 372.21 L606.80 374.24 L608.86 373.90 L609.13 376.32 L612.00 376.32 L610.62 378.80 Z" fill="#050505"/>
<path d="M605.94 382.15 l-1.13 -0.09 M600.43 382.12 l0.05 0.34 M601.00 380.26 l-0.10 -0.53 M611.10 380.17 l0.82 0.50 M604.41 382.06 l-0.51 -1.03 M605.48 377.42 l0.83 -0.27 M610.16 378.92 l-1.20 -0.70 M607.90 378.54 l1.15 -0.25" stroke="#999" stroke-width="0.6" fill="none"/>
<path d="M619.14 389.20 L616.71 390.54 L618.15 393.05 L615.44 392.98 L614.85 395.08 L612.89 394.26 L611.28 395.33 L610.20 393.50 L607.91 394.11 L608.15 391.77 L605.64 391.11 L607.23 389.20 L605.97 387.38 L608.12 386.60 L608.06 384.47 L610.00 384.47 L611.15 382.20 L612.85 384.38 L615.05 382.87 L615.33 385.54 L617.97 385.47 L616.74 387.86 Z" fill="#050505"/>
<path d="M609.95 388.18 l0.89 0.63 M613.01 389.89 l-0.10 -0.68 M612.52 393.97 l1.06 -1.16 M615.51 389.67 l1.07 0.93 M610.80 385.58 l-0.04 -0.02 M612.86 388.31 l0.44 0.53" stroke="#999" stroke-width="0.6" fill="none"/>
<rect x="639.25" y="282.25" width="14" height="14" rx="2.8" fill="#050505" transform="rotate(-14 646.25 289.25)"/>
<path d="M647.35 291.42 l1.55 -0.67 M648.40 293.03 l0.63 -1.24 M650.22 290.58 l1.68 -1.66 M645.97 286.98 l1.25 -1.11 M641.89 286.71 l0.94 -0.70 M648.63 286.20 l1.56 -1.63 M647.30 285.91 l0.60 -0.75 M643.65 286.70 l1.78 -0.75 M644.36 293.38 l1.25 -0.99" stroke="#aaa" stroke-width="0.6" fill="none" transform="rotate(-14 646.25 289.25)"/>
<rect x="637.75" y="321.25" width="14" height="14" rx="2.8" fill="#050505" transform="rotate(-8 644.75 328.25)"/>
<path d="M647.38 331.13 l1.18 -1.49 M640.27 329.71 l1.16 -0.89 M643.61 330.67 l0.93 -0.84 M646.81 327.48 l1.25 -0.98 M642.00 328.73 l1.57 -1.48 M647.47 329.91 l1.61 -1.40 M641.10 330.94 l1.57 -1.27 M641.11 325.54 l1.36 -1.45 M648.79 329.04 l0.84 -1.01" stroke="#aaa" stroke-width="0.6" fill="none" transform="rotate(-8 644.75 328.25)"/>
<path d="M674.84 289.25 L673.82 290.97 L674.72 293.25 L672.62 294.24 L671.75 295.91 L669.55 295.83 L668.50 297.71 L666.54 296.79 L664.71 299.10 L663.45 296.33 L660.97 297.53 L660.69 294.87 L658.35 294.63 L658.55 292.46 L655.88 291.35 L657.61 289.25 L657.27 287.45 L658.75 286.14 L658.55 284.02 L660.05 282.92 L660.73 280.56 L663.15 281.23 L664.70 279.24 L666.62 280.96 L668.93 279.47 L669.95 281.97 L671.83 282.50 L672.62 284.26 L674.41 285.39 L673.92 287.51 Z" fill="#111"/>
<path d="M662.40 287.82 l-0.33 -0.17 M665.09 290.81 l0.77 0.72 M671.00 288.78 l0.13 0.60 M669.18 293.13 l-0.14 -0.78 M666.99 293.29 l-0.59 -0.10 M663.05 287.14 l-0.89 -0.02 M665.97 291.67 l-0.73 -0.32 M670.25 291.48 l1.09 -0.26 M664.43 282.60 l-1.10 -0.86 M667.89 283.44 l0.33 -0.82 M660.29 292.55 l0.93 0.73 M667.58 295.27 l-0.30 0.52 M670.33 294.57 l0.25 0.53 M666.90 293.92 l0.19 0.22 M662.26 293.50 l-0.38 -0.49 M668.43 293.74 l-0.93 -0.66" stroke="#999" stroke-width="0.6" fill="none"/>
<circle cx="665.75" cy="289.25" r="8.93" fill="none" stroke="#000" stroke-width="0.8"/>
<path d="M675.32 325.25 L674.60 326.97 L675.42 329.22 L673.48 330.32 L672.59 332.02 L670.31 331.86 L669.56 334.67 L667.36 333.42 L665.54 334.36 L663.95 333.10 L661.84 333.33 L660.89 331.48 L659.34 330.45 L659.57 328.33 L656.53 327.37 L658.72 325.25 L657.61 323.36 L658.80 321.82 L658.63 319.53 L661.50 319.70 L661.70 316.94 L663.96 317.43 L665.57 316.37 L667.36 317.09 L669.24 316.83 L670.37 318.54 L672.38 318.72 L672.61 320.81 L675.94 321.05 L674.17 323.62 Z" fill="#111"/>
<path d="M670.19 325.03 l0.26 0.89 M665.86 323.72 l0.21 0.32 M667.15 326.66 l0.90 0.03 M667.81 328.80 l-0.68 0.72 M664.90 325.25 l0.76 -0.99 M666.28 326.36 l0.58 -0.93 M664.98 325.00 l-0.05 0.44 M662.79 324.42 l-0.04 -0.15 M665.22 324.37 l-0.06 -0.63 M671.02 320.15 l-1.04 -0.86 M665.20 320.92 l-1.15 0.49 M669.88 324.01 l-0.37 0.17 M668.92 324.28 l-0.47 -0.75 M663.81 322.44 l-0.59 -0.27 M669.34 325.88 l1.16 0.21 M665.12 331.91 l-0.34 -0.60" stroke="#999" stroke-width="0.6" fill="none"/>
<circle cx="666.5" cy="325.25" r="8.93" fill="none" stroke="#000" stroke-width="0.8"/>
<rect x="634.5" y="298.5" width="19.0" height="19.0" fill="#fff" stroke="#000" stroke-width="1"/>
<rect x="636.5" y="300.5" width="15.0" height="14.0" fill="none" stroke="#000" stroke-width="0.8"/>
<path d="M639 303 C640 309 645 309 649 312 M645 301 C646 305 649 306 651 307" fill="none" stroke="#222" stroke-width="0.7"/>
<line x1="417.00" y1="342.50" x2="454.00" y2="342.50" stroke="#111" stroke-width="1" />
<line x1="417.00" y1="353.50" x2="454.00" y2="353.50" stroke="#111" stroke-width="1" />
<line x1="417.00" y1="365.50" x2="454.00" y2="365.50" stroke="#111" stroke-width="1" />
<line x1="417.00" y1="376.50" x2="454.00" y2="376.50" stroke="#111" stroke-width="1" />
<line x1="417.00" y1="387.50" x2="454.00" y2="387.50" stroke="#111" stroke-width="1" />
<line x1="417.00" y1="398.50" x2="454.00" y2="398.50" stroke="#111" stroke-width="1" />
<line x1="417.00" y1="410.50" x2="454.00" y2="410.50" stroke="#111" stroke-width="1" />
<line x1="461.00" y1="334.50" x2="499.00" y2="334.50" stroke="#111" stroke-width="1" />
<line x1="461.00" y1="342.50" x2="499.00" y2="342.50" stroke="#111" stroke-width="1" />
<line x1="461.00" y1="353.50" x2="499.00" y2="353.50" stroke="#111" stroke-width="1" />
<line x1="461.00" y1="365.50" x2="499.00" y2="365.50" stroke="#111" stroke-width="1" />
<line x1="461.00" y1="376.50" x2="499.00" y2="376.50" stroke="#111" stroke-width="1" />
<line x1="461.00" y1="387.50" x2="499.00" y2="387.50" stroke="#111" stroke-width="1" />
<line x1="461.00" y1="398.50" x2="499.00" y2="398.50" stroke="#111" stroke-width="1" />
<line x1="461.00" y1="410.50" x2="499.00" y2="410.50" stroke="#111" stroke-width="1" />
<path d="M414.5 445 V340 Q414.5 338.5 415.7 338.5 Q417 338.5 417 340 V445" fill="#fff" stroke="#000" stroke-width="1"/>
<rect x="459" y="331.5" width="2.2" height="78" fill="#ccc"/>
<path d="M453.8 410 V340 Q453.8 338.5 455 338.5 Q456.2 338.5 456.2 340 V405.8 Q457.5 408.8 458.8 405.8 V331.5 M461.3 329.5 V410" fill="none" stroke="#000" stroke-width="1"/>
<line x1="417.00" y1="410.50" x2="499.00" y2="410.50" stroke="#111" stroke-width="1" />
<path d="M478.50 309.00 L478.50 426.50 L437.50 426.50 L437.50 372.00" fill="none" stroke="#000" stroke-width="1" />
<path d="M437.5 361 L435 372.5 H440 Z" fill="#000"/>
<rect x="397.0" y="238.8" width="22.8" height="11.0" fill="#fff"/>
<path d="M402.87 239.98 L404.04 240.97" fill="none" stroke="#0a0a0a" stroke-width="1.05" stroke-linecap="square"/>
<path d="M399.90 241.87 L407.10 241.87" fill="none" stroke="#0a0a0a" stroke-width="1.05" stroke-linecap="square"/>
<path d="M400.80 244.66 L406.20 244.66" fill="none" stroke="#0a0a0a" stroke-width="1.05" stroke-linecap="square"/>
<path d="M399.36 248.08 L407.64 248.08" fill="none" stroke="#0a0a0a" stroke-width="1.05" stroke-linecap="square"/>
<path d="M403.50 241.87 L403.50 248.08" fill="none" stroke="#0a0a0a" stroke-width="1.05" stroke-linecap="square"/>
<path d="M409.52 240.70 L409.52 247.90" fill="none" stroke="#0a0a0a" stroke-width="1.05" stroke-linecap="square"/>
<path d="M409.52 240.70 L413.12 240.70" fill="none" stroke="#0a0a0a" stroke-width="1.05" stroke-linecap="square"/>
<path d="M409.52 247.90 L413.12 247.90" fill="none" stroke="#0a0a0a" stroke-width="1.05" stroke-linecap="square"/>
<path d="M409.52 243.13 L412.67 243.13 L412.67 245.47 L409.52 245.47" fill="none" stroke="#0a0a0a" stroke-width="1.05" stroke-linecap="square"/>
<path d="M411.14 240.70 L411.14 243.13" fill="none" stroke="#0a0a0a" stroke-width="1.05" stroke-linecap="square"/>
<path d="M411.14 245.47 L411.14 247.90" fill="none" stroke="#0a0a0a" stroke-width="1.05" stroke-linecap="square"/>
<path d="M415.10 239.98 L415.10 248.62" fill="none" stroke="#0a0a0a" stroke-width="1.05" stroke-linecap="square"/>
<path d="M415.10 242.86 L417.44 244.84" fill="none" stroke="#0a0a0a" stroke-width="1.05" stroke-linecap="square"/>
<rect x="471.9" y="139.4" width="22.7" height="10.9" fill="#fff"/>
<path d="M477.78 140.53 L478.93 141.51" fill="none" stroke="#0a0a0a" stroke-width="1.05" stroke-linecap="square"/>
<path d="M474.84 142.40 L481.96 142.40" fill="none" stroke="#0a0a0a" stroke-width="1.05" stroke-linecap="square"/>
<path d="M475.73 145.16 L481.07 145.16" fill="none" stroke="#0a0a0a" stroke-width="1.05" stroke-linecap="square"/>
<path d="M474.31 148.54 L482.49 148.54" fill="none" stroke="#0a0a0a" stroke-width="1.05" stroke-linecap="square"/>
<path d="M478.40 142.40 L478.40 148.54" fill="none" stroke="#0a0a0a" stroke-width="1.05" stroke-linecap="square"/>
<path d="M484.82 141.69 L490.87 141.69 L490.87 145.33 L489.80 144.98" fill="none" stroke="#0a0a0a" stroke-width="1.05" stroke-linecap="square"/>
<path d="M487.49 141.69 L487.49 148.45" fill="none" stroke="#0a0a0a" stroke-width="1.05" stroke-linecap="square"/>
<path d="M484.11 148.45 L492.29 148.45" fill="none" stroke="#0a0a0a" stroke-width="1.05" stroke-linecap="square"/>
<path d="M578.48 120.15 L584.60 120.15 L584.60 123.84 L583.52 123.48" fill="none" stroke="#0a0a0a" stroke-width="1.05" stroke-linecap="square"/>
<path d="M581.18 120.15 L581.18 126.99" fill="none" stroke="#0a0a0a" stroke-width="1.05" stroke-linecap="square"/>
<path d="M577.76 126.99 L586.04 126.99" fill="none" stroke="#0a0a0a" stroke-width="1.05" stroke-linecap="square"/>
<path d="M589.24 119.25 L587.80 122.40" fill="none" stroke="#0a0a0a" stroke-width="1.05" stroke-linecap="square"/>
<path d="M588.61 121.14 L595.00 121.14" fill="none" stroke="#0a0a0a" stroke-width="1.05" stroke-linecap="square"/>
<path d="M591.40 118.98 L591.40 127.08" fill="none" stroke="#0a0a0a" stroke-width="1.05" stroke-linecap="square"/>
<path d="M588.70 124.02 L594.37 124.02" fill="none" stroke="#0a0a0a" stroke-width="1.05" stroke-linecap="square"/>
<path d="M587.26 127.08 L595.54 127.08" fill="none" stroke="#0a0a0a" stroke-width="1.05" stroke-linecap="square"/>
<path d="M597.30 118.98 L598.29 119.97" fill="none" stroke="#0a0a0a" stroke-width="1.05" stroke-linecap="square"/>
<path d="M597.12 121.05 L597.12 127.62" fill="none" stroke="#0a0a0a" stroke-width="1.05" stroke-linecap="square"/>
<path d="M599.10 119.70 L604.68 119.70 L604.68 127.26 L603.60 127.62" fill="none" stroke="#0a0a0a" stroke-width="1.05" stroke-linecap="square"/>
<path d="M599.28 122.04 L602.52 122.04 L602.52 126.00 L599.28 126.00 L599.28 122.04" fill="none" stroke="#0a0a0a" stroke-width="1.05" stroke-linecap="square"/>
<path d="M599.28 124.02 L602.52 124.02" fill="none" stroke="#0a0a0a" stroke-width="1.05" stroke-linecap="square"/>
<rect x="474.2" y="198.2" width="33.5" height="11.5" fill="#fff"/>
<path d="M481.00 199.34 L481.00 201.15" fill="none" stroke="#0a0a0a" stroke-width="1.05" stroke-linecap="square"/>
<path d="M477.01 201.15 L484.99 201.15" fill="none" stroke="#0a0a0a" stroke-width="1.05" stroke-linecap="square"/>
<path d="M481.00 201.15 L479.10 203.62 L476.82 205.52" fill="none" stroke="#0a0a0a" stroke-width="1.05" stroke-linecap="square"/>
<path d="M479.29 203.62 L479.29 208.37 L481.00 207.04" fill="none" stroke="#0a0a0a" stroke-width="1.05" stroke-linecap="square"/>
<path d="M484.04 202.48 L481.95 204.28" fill="none" stroke="#0a0a0a" stroke-width="1.05" stroke-linecap="square"/>
<path d="M481.00 203.62 L482.90 206.47 L485.37 208.18" fill="none" stroke="#0a0a0a" stroke-width="1.05" stroke-linecap="square"/>
<path d="M486.73 201.62 L486.73 206.38" fill="none" stroke="#0a0a0a" stroke-width="1.05" stroke-linecap="square"/>
<path d="M486.73 201.62 L489.57 201.62 L489.57 206.09" fill="none" stroke="#0a0a0a" stroke-width="1.05" stroke-linecap="square"/>
<path d="M488.15 199.44 L488.15 208.56" fill="none" stroke="#0a0a0a" stroke-width="1.05" stroke-linecap="square"/>
<path d="M490.81 203.05 L490.81 200.01 L495.27 200.01 L495.27 203.05" fill="none" stroke="#0a0a0a" stroke-width="1.05" stroke-linecap="square"/>
<path d="M491.95 201.15 L494.13 201.15" fill="none" stroke="#0a0a0a" stroke-width="1.05" stroke-linecap="square"/>
<path d="M491.95 202.29 L494.13 202.29" fill="none" stroke="#0a0a0a" stroke-width="1.05" stroke-linecap="square"/>
<path d="M491.29 203.81 L494.80 203.81 L494.80 208.37 L491.29 208.37 L491.29 203.81" fill="none" stroke="#0a0a0a" stroke-width="1.05" stroke-linecap="square"/>
<path d="M491.29 205.33 L494.80 205.33" fill="none" stroke="#0a0a0a" stroke-width="1.05" stroke-linecap="square"/>
<path d="M491.29 206.85 L494.80 206.85" fill="none" stroke="#0a0a0a" stroke-width="1.05" stroke-linecap="square"/>
<path d="M497.20 199.44 L498.25 200.49" fill="none" stroke="#0a0a0a" stroke-width="1.05" stroke-linecap="square"/>
<path d="M497.01 201.62 L497.01 208.56" fill="none" stroke="#0a0a0a" stroke-width="1.05" stroke-linecap="square"/>
<path d="M499.10 200.20 L504.99 200.20 L504.99 208.18 L503.85 208.56" fill="none" stroke="#0a0a0a" stroke-width="1.05" stroke-linecap="square"/>
<path d="M499.29 202.67 L502.71 202.67 L502.71 206.85 L499.29 206.85 L499.29 202.67" fill="none" stroke="#0a0a0a" stroke-width="1.05" stroke-linecap="square"/>
<path d="M499.29 204.76 L502.71 204.76" fill="none" stroke="#0a0a0a" stroke-width="1.05" stroke-linecap="square"/>
<path d="M690.87 204.05 L692.22 205.40" fill="none" stroke="#0a0a0a" stroke-width="1.05" stroke-linecap="square"/>
<path d="M690.51 210.08 L692.49 207.65" fill="none" stroke="#0a0a0a" stroke-width="1.05" stroke-linecap="square"/>
<path d="M694.65 202.88 L693.30 205.94" fill="none" stroke="#0a0a0a" stroke-width="1.05" stroke-linecap="square"/>
<path d="M694.29 204.50 L698.61 204.50 L697.62 206.30" fill="none" stroke="#0a0a0a" stroke-width="1.05" stroke-linecap="square"/>
<path d="M696.09 205.76 L695.55 208.28 L692.85 211.43" fill="none" stroke="#0a0a0a" stroke-width="1.05" stroke-linecap="square"/>
<path d="M695.91 207.74 L698.88 211.43" fill="none" stroke="#0a0a0a" stroke-width="1.05" stroke-linecap="square"/>
<path d="M700.57 203.60 L700.57 210.80" fill="none" stroke="#0a0a0a" stroke-width="1.05" stroke-linecap="square"/>
<path d="M700.57 203.60 L704.17 203.60" fill="none" stroke="#0a0a0a" stroke-width="1.05" stroke-linecap="square"/>
<path d="M700.57 210.80 L704.17 210.80" fill="none" stroke="#0a0a0a" stroke-width="1.05" stroke-linecap="square"/>
<path d="M700.57 206.03 L703.72 206.03 L703.72 208.37 L700.57 208.37" fill="none" stroke="#0a0a0a" stroke-width="1.05" stroke-linecap="square"/>
<path d="M702.19 203.60 L702.19 206.03" fill="none" stroke="#0a0a0a" stroke-width="1.05" stroke-linecap="square"/>
<path d="M702.19 208.37 L702.19 210.80" fill="none" stroke="#0a0a0a" stroke-width="1.05" stroke-linecap="square"/>
<path d="M706.15 202.88 L706.15 211.52" fill="none" stroke="#0a0a0a" stroke-width="1.05" stroke-linecap="square"/>
<path d="M706.15 205.76 L708.49 207.74" fill="none" stroke="#0a0a0a" stroke-width="1.05" stroke-linecap="square"/>
<path d="M578.09 301.92 L583.25 301.92 L583.25 304.16" fill="none" stroke="#0a0a0a" stroke-width="1.05" stroke-linecap="square"/>
<path d="M577.14 304.50 L584.54 304.50 L584.54 307.60 L583.34 307.94" fill="none" stroke="#0a0a0a" stroke-width="1.05" stroke-linecap="square"/>
<path d="M580.67 300.29 L580.67 308.71" fill="none" stroke="#0a0a0a" stroke-width="1.05" stroke-linecap="square"/>
<path d="M583.68 300.54 L584.71 301.58" fill="none" stroke="#0a0a0a" stroke-width="1.05" stroke-linecap="square"/>
<path d="M589.58 300.20 L590.36 301.06" fill="none" stroke="#0a0a0a" stroke-width="1.05" stroke-linecap="square"/>
<path d="M587.35 301.49 L593.54 301.49 L593.54 303.30 L587.35 303.30" fill="none" stroke="#0a0a0a" stroke-width="1.05" stroke-linecap="square"/>
<path d="M587.35 301.49 L587.35 305.36 L586.06 308.54" fill="none" stroke="#0a0a0a" stroke-width="1.05" stroke-linecap="square"/>
<path d="M590.79 303.64 L591.22 304.50" fill="none" stroke="#0a0a0a" stroke-width="1.05" stroke-linecap="square"/>
<path d="M588.38 304.84 L594.14 304.84" fill="none" stroke="#0a0a0a" stroke-width="1.05" stroke-linecap="square"/>
<path d="M590.53 304.84 L590.10 306.74 L588.38 308.63" fill="none" stroke="#0a0a0a" stroke-width="1.05" stroke-linecap="square"/>
<path d="M590.36 306.22 L593.20 306.22 L592.94 308.46 L591.91 308.11" fill="none" stroke="#0a0a0a" stroke-width="1.05" stroke-linecap="square"/>
<path d="M311.70 338.65 L313.81 338.65" fill="none" stroke="#0a0a0a" stroke-width="0.55" stroke-linecap="square"/>
<path d="M312.82 337.13 L312.82 343.27 L312.16 342.94" fill="none" stroke="#0a0a0a" stroke-width="0.55" stroke-linecap="square"/>
<path d="M311.70 341.29 L313.88 340.30" fill="none" stroke="#0a0a0a" stroke-width="0.55" stroke-linecap="square"/>
<path d="M315.20 337.20 L315.20 340.96 L314.14 343.40" fill="none" stroke="#0a0a0a" stroke-width="0.55" stroke-linecap="square"/>
<path d="M316.52 337.20 L316.52 342.81 L317.90 342.81 L317.90 341.95" fill="none" stroke="#0a0a0a" stroke-width="0.55" stroke-linecap="square"/>
<path d="M314.14 338.32 L314.93 339.31" fill="none" stroke="#0a0a0a" stroke-width="0.55" stroke-linecap="square"/>
<path d="M314.14 340.96 L315.06 340.04" fill="none" stroke="#0a0a0a" stroke-width="0.55" stroke-linecap="square"/>
<path d="M317.77 338.32 L316.78 339.31" fill="none" stroke="#0a0a0a" stroke-width="0.55" stroke-linecap="square"/>
<path d="M316.78 340.04 L317.84 340.96" fill="none" stroke="#0a0a0a" stroke-width="0.55" stroke-linecap="square"/>
<path d="M322.00 337.00 L322.00 337.79" fill="none" stroke="#0a0a0a" stroke-width="0.55" stroke-linecap="square"/>
<path d="M319.10 338.98 L319.10 338.06 L324.90 338.06 L324.90 338.98" fill="none" stroke="#0a0a0a" stroke-width="0.55" stroke-linecap="square"/>
<path d="M321.21 338.58 L319.69 340.04" fill="none" stroke="#0a0a0a" stroke-width="0.55" stroke-linecap="square"/>
<path d="M322.66 338.58 L322.66 339.64 L324.38 339.64" fill="none" stroke="#0a0a0a" stroke-width="0.55" stroke-linecap="square"/>
<path d="M320.02 340.96 L323.98 340.96" fill="none" stroke="#0a0a0a" stroke-width="0.55" stroke-linecap="square"/>
<path d="M322.00 340.96 L322.00 343.20" fill="none" stroke="#0a0a0a" stroke-width="0.55" stroke-linecap="square"/>
<path d="M319.03 343.20 L324.97 343.20" fill="none" stroke="#0a0a0a" stroke-width="0.55" stroke-linecap="square"/>
<path d="M331.97 337.53 L326.43 337.53 L326.43 343.14 L332.10 343.14" fill="none" stroke="#0a0a0a" stroke-width="0.55" stroke-linecap="square"/>
<path d="M327.75 338.85 L330.92 342.02" fill="none" stroke="#0a0a0a" stroke-width="0.55" stroke-linecap="square"/>
<path d="M330.78 338.72 L327.62 342.15" fill="none" stroke="#0a0a0a" stroke-width="0.55" stroke-linecap="square"/>
<rect x="468" y="297" width="29" height="10" fill="#fff"/>
<text x="471.3" y="305.3" font-size="9" textLength="22.5" lengthAdjust="spacingAndGlyphs" fill="#222">DOWN</text>
<g id="dims">
<line x1="227.00" y1="10.50" x2="765.00" y2="10.50" stroke="#000" stroke-width="1" />
<line x1="235.00" y1="31.50" x2="765.00" y2="31.50" stroke="#000" stroke-width="1" />
<line x1="235.00" y1="53.50" x2="765.00" y2="53.50" stroke="#000" stroke-width="1" />
<line x1="239.50" y1="7.00" x2="239.50" y2="30.00" stroke="#000" stroke-width="1" />
<line x1="753.50" y1="7.00" x2="753.50" y2="75.00" stroke="#000" stroke-width="1" />
<line x1="247.50" y1="29.00" x2="247.50" y2="41.00" stroke="#000" stroke-width="1" />
<line x1="247.50" y1="46.00" x2="247.50" y2="75.00" stroke="#000" stroke-width="1" />
<line x1="239.50" y1="46.00" x2="239.50" y2="75.00" stroke="#000" stroke-width="1" />
<line x1="272.50" y1="46.00" x2="272.50" y2="75.00" stroke="#000" stroke-width="1" />
<line x1="280.50" y1="29.00" x2="280.50" y2="75.00" stroke="#000" stroke-width="1" />
<line x1="416.50" y1="29.00" x2="416.50" y2="75.00" stroke="#000" stroke-width="1" />
<line x1="424.50" y1="29.00" x2="424.50" y2="75.00" stroke="#000" stroke-width="1" />
<line x1="617.50" y1="29.00" x2="617.50" y2="75.00" stroke="#000" stroke-width="1" />
<line x1="624.50" y1="29.00" x2="624.50" y2="75.00" stroke="#000" stroke-width="1" />
<line x1="454.50" y1="46.00" x2="454.50" y2="75.00" stroke="#000" stroke-width="1" />
<line x1="458.50" y1="46.00" x2="458.50" y2="75.00" stroke="#000" stroke-width="1" />
<line x1="522.50" y1="51.00" x2="522.50" y2="75.00" stroke="#000" stroke-width="1" />
<line x1="540.50" y1="53.00" x2="540.50" y2="75.00" stroke="#000" stroke-width="1" />
<line x1="548.50" y1="29.00" x2="548.50" y2="87.00" stroke="#000" stroke-width="1" />
<line x1="556.50" y1="29.00" x2="556.50" y2="87.00" stroke="#000" stroke-width="1" />
<text x="495.50" y="8.60" font-size="11" text-anchor="middle" fill="#000" textLength="25.4" lengthAdjust="spacingAndGlyphs">13930</text>
<text x="263.00" y="31.20" font-size="11" text-anchor="middle" fill="#000" textLength="15.2" lengthAdjust="spacingAndGlyphs">920</text>
<text x="348.75" y="31.20" font-size="11" text-anchor="middle" fill="#000" textLength="20.3" lengthAdjust="spacingAndGlyphs">3690</text>
<text x="487.00" y="31.20" font-size="11" text-anchor="middle" fill="#000" textLength="20.3" lengthAdjust="spacingAndGlyphs">3370</text>
<text x="585.50" y="31.20" font-size="11" text-anchor="middle" fill="#000" textLength="20.3" lengthAdjust="spacingAndGlyphs">1650</text>
<text x="688.00" y="31.20" font-size="11" text-anchor="middle" fill="#000" textLength="20.3" lengthAdjust="spacingAndGlyphs">3470</text>
<text x="241.25" y="52.80" font-size="11" text-anchor="middle" fill="#000" textLength="15.2" lengthAdjust="spacingAndGlyphs">210</text>
<text x="258.75" y="52.80" font-size="11" text-anchor="middle" fill="#000" textLength="15.2" lengthAdjust="spacingAndGlyphs">710</text>
<text x="276.25" y="52.80" font-size="11" text-anchor="middle" fill="#000" textLength="15.2" lengthAdjust="spacingAndGlyphs">210</text>
<text x="348.75" y="52.80" font-size="11" text-anchor="middle" fill="#000" textLength="20.3" lengthAdjust="spacingAndGlyphs">3690</text>
<text x="420.50" y="52.80" font-size="11" text-anchor="middle" fill="#000" textLength="15.2" lengthAdjust="spacingAndGlyphs">210</text>
<text x="440.00" y="52.80" font-size="11" text-anchor="middle" fill="#000" textLength="15.2" lengthAdjust="spacingAndGlyphs">930</text>
<text x="456.00" y="52.80" font-size="11" text-anchor="middle" fill="#000" textLength="15.2" lengthAdjust="spacingAndGlyphs">100</text>
<text x="490.00" y="52.80" font-size="11" text-anchor="middle" fill="#000" textLength="20.3" lengthAdjust="spacingAndGlyphs">1720</text>
<text x="544.50" y="52.80" font-size="11" text-anchor="middle" fill="#000" textLength="15.2" lengthAdjust="spacingAndGlyphs">240</text>
<text x="585.50" y="52.80" font-size="11" text-anchor="middle" fill="#000" textLength="20.3" lengthAdjust="spacingAndGlyphs">1650</text>
<text x="620.00" y="52.80" font-size="11" text-anchor="middle" fill="#000" textLength="15.2" lengthAdjust="spacingAndGlyphs">210</text>
<text x="688.00" y="52.80" font-size="11" text-anchor="middle" fill="#000" textLength="20.3" lengthAdjust="spacingAndGlyphs">3470</text>
<text x="552.50" y="66.00" font-size="11" text-anchor="middle" fill="#000" textLength="15.2" lengthAdjust="spacingAndGlyphs">300</text>
<line x1="33.50" y1="82.00" x2="33.50" y2="467.00" stroke="#000" stroke-width="1" />
<line x1="58.50" y1="122.00" x2="58.50" y2="456.00" stroke="#000" stroke-width="1" />
<line x1="81.50" y1="90.00" x2="81.50" y2="467.00" stroke="#000" stroke-width="1" />
<line x1="31.00" y1="93.50" x2="75.00" y2="93.50" stroke="#000" stroke-width="1" />
<line x1="31.00" y1="455.50" x2="70.00" y2="455.50" stroke="#000" stroke-width="1" />
<line x1="57.00" y1="133.50" x2="76.00" y2="133.50" stroke="#000" stroke-width="1" />
<line x1="57.00" y1="270.50" x2="118.00" y2="270.50" stroke="#000" stroke-width="1" />
<line x1="57.00" y1="278.50" x2="118.00" y2="278.50" stroke="#000" stroke-width="1" />
<line x1="57.00" y1="445.50" x2="76.00" y2="445.50" stroke="#000" stroke-width="1" />
<line x1="80.00" y1="93.50" x2="102.00" y2="93.50" stroke="#000" stroke-width="1" />
<line x1="80.00" y1="101.50" x2="102.00" y2="101.50" stroke="#000" stroke-width="1" />
<line x1="80.00" y1="124.50" x2="102.00" y2="124.50" stroke="#000" stroke-width="1" />
<line x1="80.00" y1="133.50" x2="102.00" y2="133.50" stroke="#000" stroke-width="1" />
<line x1="80.00" y1="151.50" x2="102.00" y2="151.50" stroke="#000" stroke-width="1" />
<line x1="80.00" y1="165.50" x2="102.00" y2="165.50" stroke="#000" stroke-width="1" />
<line x1="80.00" y1="255.50" x2="102.00" y2="255.50" stroke="#000" stroke-width="1" />
<line x1="80.00" y1="302.50" x2="102.00" y2="302.50" stroke="#000" stroke-width="1" />
<line x1="80.00" y1="404.50" x2="102.00" y2="404.50" stroke="#000" stroke-width="1" />
<line x1="80.00" y1="420.50" x2="102.00" y2="420.50" stroke="#000" stroke-width="1" />
<line x1="80.00" y1="455.50" x2="102.00" y2="455.50" stroke="#000" stroke-width="1" />
<text x="92.50" y="98.00" font-size="11" text-anchor="middle" fill="#000" textLength="15.2" lengthAdjust="spacingAndGlyphs" transform="rotate(-90 92.50 98.00)">210</text>
<text x="96.50" y="275.00" font-size="11" text-anchor="middle" fill="#000" textLength="15.2" lengthAdjust="spacingAndGlyphs" transform="rotate(-90 96.50 275.00)">235</text>
<text x="79.50" y="112.50" font-size="11" text-anchor="middle" fill="#000" textLength="15.2" lengthAdjust="spacingAndGlyphs" transform="rotate(-90 79.50 112.50)">610</text>
<text x="79.50" y="141.00" font-size="11" text-anchor="middle" fill="#000" textLength="15.2" lengthAdjust="spacingAndGlyphs" transform="rotate(-90 79.50 141.00)">480</text>
<text x="79.50" y="159.00" font-size="11" text-anchor="middle" fill="#000" textLength="15.2" lengthAdjust="spacingAndGlyphs" transform="rotate(-90 79.50 159.00)">410</text>
<text x="79.50" y="211.00" font-size="11" text-anchor="middle" fill="#000" textLength="20.3" lengthAdjust="spacingAndGlyphs" transform="rotate(-90 79.50 211.00)">2395</text>
<text x="79.50" y="261.00" font-size="11" text-anchor="middle" fill="#000" textLength="15.2" lengthAdjust="spacingAndGlyphs" transform="rotate(-90 79.50 261.00)">420</text>
<text x="79.50" y="291.00" font-size="11" text-anchor="middle" fill="#000" textLength="15.2" lengthAdjust="spacingAndGlyphs" transform="rotate(-90 79.50 291.00)">630</text>
<text x="79.50" y="353.00" font-size="11" text-anchor="middle" fill="#000" textLength="20.3" lengthAdjust="spacingAndGlyphs" transform="rotate(-90 79.50 353.00)">2750</text>
<text x="79.50" y="412.50" font-size="11" text-anchor="middle" fill="#000" textLength="15.2" lengthAdjust="spacingAndGlyphs" transform="rotate(-90 79.50 412.50)">440</text>
<text x="79.50" y="439.00" font-size="11" text-anchor="middle" fill="#000" textLength="15.2" lengthAdjust="spacingAndGlyphs" transform="rotate(-90 79.50 439.00)">350</text>
<text x="57.60" y="202.20" font-size="11" text-anchor="middle" fill="#000" textLength="20.3" lengthAdjust="spacingAndGlyphs" transform="rotate(-90 57.60 202.20)">3715</text>
<text x="57.60" y="362.50" font-size="11" text-anchor="middle" fill="#000" textLength="20.3" lengthAdjust="spacingAndGlyphs" transform="rotate(-90 57.60 362.50)">4530</text>
<text x="32.50" y="275.00" font-size="11" text-anchor="middle" fill="#000" textLength="20.3" lengthAdjust="spacingAndGlyphs" transform="rotate(-90 32.50 275.00)">9925</text>
<line x1="801.50" y1="82.00" x2="801.50" y2="363.00" stroke="#000" stroke-width="1" />
<line x1="801.50" y1="367.00" x2="801.50" y2="413.00" stroke="#000" stroke-width="1" />
<line x1="823.50" y1="90.00" x2="823.50" y2="413.00" stroke="#000" stroke-width="1" />
<line x1="845.50" y1="144.00" x2="845.50" y2="413.00" stroke="#000" stroke-width="1" />
<line x1="868.50" y1="82.00" x2="868.50" y2="422.00" stroke="#000" stroke-width="1" />
<line x1="781.00" y1="93.50" x2="804.00" y2="93.50" stroke="#000" stroke-width="1" />
<line x1="781.00" y1="113.50" x2="804.00" y2="113.50" stroke="#000" stroke-width="1" />
<line x1="781.00" y1="145.50" x2="804.00" y2="145.50" stroke="#000" stroke-width="1" />
<line x1="781.00" y1="147.50" x2="804.00" y2="147.50" stroke="#000" stroke-width="1" />
<line x1="781.00" y1="179.50" x2="804.00" y2="179.50" stroke="#000" stroke-width="1" />
<line x1="781.00" y1="247.50" x2="804.00" y2="247.50" stroke="#000" stroke-width="1" />
<line x1="781.00" y1="278.50" x2="804.00" y2="278.50" stroke="#000" stroke-width="1" />
<line x1="781.00" y1="290.50" x2="804.00" y2="290.50" stroke="#000" stroke-width="1" />
<line x1="781.00" y1="322.50" x2="804.00" y2="322.50" stroke="#000" stroke-width="1" />
<line x1="781.00" y1="351.50" x2="804.00" y2="351.50" stroke="#000" stroke-width="1" />
<line x1="781.00" y1="377.50" x2="804.00" y2="377.50" stroke="#000" stroke-width="1" />
<line x1="781.00" y1="401.50" x2="804.00" y2="401.50" stroke="#000" stroke-width="1" />
<line x1="806.00" y1="101.50" x2="826.00" y2="101.50" stroke="#000" stroke-width="1" />
<line x1="806.00" y1="171.50" x2="826.00" y2="171.50" stroke="#000" stroke-width="1" />
<line x1="806.00" y1="178.50" x2="826.00" y2="178.50" stroke="#000" stroke-width="1" />
<line x1="806.00" y1="215.50" x2="826.00" y2="215.50" stroke="#000" stroke-width="1" />
<line x1="806.00" y1="222.50" x2="826.00" y2="222.50" stroke="#000" stroke-width="1" />
<line x1="806.00" y1="270.50" x2="826.00" y2="270.50" stroke="#000" stroke-width="1" />
<line x1="806.00" y1="288.50" x2="826.00" y2="288.50" stroke="#000" stroke-width="1" />
<line x1="806.00" y1="342.50" x2="826.00" y2="342.50" stroke="#000" stroke-width="1" />
<line x1="806.00" y1="351.50" x2="826.00" y2="351.50" stroke="#000" stroke-width="1" />
<line x1="806.00" y1="401.50" x2="826.00" y2="401.50" stroke="#000" stroke-width="1" />
<line x1="828.00" y1="155.50" x2="849.00" y2="155.50" stroke="#000" stroke-width="1" />
<line x1="828.00" y1="270.50" x2="849.00" y2="270.50" stroke="#000" stroke-width="1" />
<line x1="828.00" y1="277.50" x2="849.00" y2="277.50" stroke="#000" stroke-width="1" />
<line x1="828.00" y1="401.50" x2="849.00" y2="401.50" stroke="#000" stroke-width="1" />
<line x1="825.00" y1="401.50" x2="829.00" y2="401.50" stroke="#000" stroke-width="1" />
<line x1="848.00" y1="93.50" x2="871.00" y2="93.50" stroke="#000" stroke-width="1" />
<line x1="848.00" y1="410.50" x2="871.00" y2="410.50" stroke="#000" stroke-width="1" />
<text x="799.30" y="103.75" font-size="11" text-anchor="middle" fill="#000" textLength="15.2" lengthAdjust="spacingAndGlyphs" transform="rotate(-90 799.30 103.75)">530</text>
<text x="799.30" y="130.00" font-size="11" text-anchor="middle" fill="#000" textLength="15.2" lengthAdjust="spacingAndGlyphs" transform="rotate(-90 799.30 130.00)">850</text>
<text x="799.30" y="163.75" font-size="11" text-anchor="middle" fill="#000" textLength="15.2" lengthAdjust="spacingAndGlyphs" transform="rotate(-90 799.30 163.75)">850</text>
<text x="799.30" y="213.75" font-size="11" text-anchor="middle" fill="#000" textLength="20.3" lengthAdjust="spacingAndGlyphs" transform="rotate(-90 799.30 213.75)">1830</text>
<text x="799.30" y="263.00" font-size="11" text-anchor="middle" fill="#000" textLength="15.2" lengthAdjust="spacingAndGlyphs" transform="rotate(-90 799.30 263.00)">840</text>
<text x="799.30" y="283.75" font-size="11" text-anchor="middle" fill="#000" textLength="15.2" lengthAdjust="spacingAndGlyphs" transform="rotate(-90 799.30 283.75)">320</text>
<text x="799.30" y="306.00" font-size="11" text-anchor="middle" fill="#000" textLength="15.2" lengthAdjust="spacingAndGlyphs" transform="rotate(-90 799.30 306.00)">890</text>
<text x="799.30" y="338.75" font-size="11" text-anchor="middle" fill="#000" textLength="15.2" lengthAdjust="spacingAndGlyphs" transform="rotate(-90 799.30 338.75)">780</text>
<text x="799.30" y="390.50" font-size="11" text-anchor="middle" fill="#000" textLength="15.2" lengthAdjust="spacingAndGlyphs" transform="rotate(-90 799.30 390.50)">650</text>
<text x="822.00" y="136.25" font-size="11" text-anchor="middle" fill="#000" textLength="20.3" lengthAdjust="spacingAndGlyphs" transform="rotate(-90 822.00 136.25)">1300</text>
<text x="822.00" y="197.50" font-size="11" text-anchor="middle" fill="#000" textLength="20.3" lengthAdjust="spacingAndGlyphs" transform="rotate(-90 822.00 197.50)">1020</text>
<text x="822.00" y="247.00" font-size="11" text-anchor="middle" fill="#000" textLength="20.3" lengthAdjust="spacingAndGlyphs" transform="rotate(-90 822.00 247.00)">1300</text>
<text x="822.00" y="315.00" font-size="11" text-anchor="middle" fill="#000" textLength="20.3" lengthAdjust="spacingAndGlyphs" transform="rotate(-90 822.00 315.00)">1460</text>
<text x="822.00" y="377.50" font-size="11" text-anchor="middle" fill="#000" textLength="20.3" lengthAdjust="spacingAndGlyphs" transform="rotate(-90 822.00 377.50)">1360</text>
<text x="844.50" y="213.75" font-size="11" text-anchor="middle" fill="#000" textLength="20.3" lengthAdjust="spacingAndGlyphs" transform="rotate(-90 844.50 213.75)">3110</text>
<text x="844.50" y="341.25" font-size="11" text-anchor="middle" fill="#000" textLength="20.3" lengthAdjust="spacingAndGlyphs" transform="rotate(-90 844.50 341.25)">3350</text>
<text x="867.00" y="252.50" font-size="11" text-anchor="middle" fill="#000" textLength="20.3" lengthAdjust="spacingAndGlyphs" transform="rotate(-90 867.00 252.50)">8590</text>
<line x1="119.00" y1="496.50" x2="771.00" y2="496.50" stroke="#000" stroke-width="1" />
<line x1="179.00" y1="518.50" x2="629.00" y2="518.50" stroke="#000" stroke-width="1" />
<line x1="116.00" y1="540.50" x2="687.00" y2="540.50" stroke="#000" stroke-width="1" />
<line x1="121.50" y1="477.00" x2="121.50" y2="499.00" stroke="#000" stroke-width="1" />
<line x1="134.50" y1="477.00" x2="134.50" y2="499.00" stroke="#000" stroke-width="1" />
<line x1="167.50" y1="477.00" x2="167.50" y2="499.00" stroke="#000" stroke-width="1" />
<line x1="536.50" y1="477.00" x2="536.50" y2="499.00" stroke="#000" stroke-width="1" />
<line x1="631.50" y1="477.00" x2="631.50" y2="499.00" stroke="#000" stroke-width="1" />
<line x1="667.50" y1="477.00" x2="667.50" y2="499.00" stroke="#000" stroke-width="1" />
<line x1="675.50" y1="477.00" x2="675.50" y2="499.00" stroke="#000" stroke-width="1" />
<line x1="760.50" y1="477.00" x2="760.50" y2="499.00" stroke="#000" stroke-width="1" />
<line x1="190.50" y1="477.00" x2="190.50" y2="522.00" stroke="#000" stroke-width="1" />
<line x1="498.50" y1="477.00" x2="498.50" y2="522.00" stroke="#000" stroke-width="1" />
<line x1="505.50" y1="477.00" x2="505.50" y2="522.00" stroke="#000" stroke-width="1" />
<line x1="617.50" y1="477.00" x2="617.50" y2="522.00" stroke="#000" stroke-width="1" />
<line x1="678.50" y1="471.00" x2="678.50" y2="488.00" stroke="#000" stroke-width="1" />
<line x1="686.50" y1="471.00" x2="686.50" y2="491.00" stroke="#000" stroke-width="1" />
<line x1="126.50" y1="521.00" x2="126.50" y2="544.00" stroke="#000" stroke-width="1" />
<line x1="675.50" y1="520.00" x2="675.50" y2="543.00" stroke="#000" stroke-width="1" />
<text x="128.00" y="495.90" font-size="11" text-anchor="middle" fill="#000" textLength="15.2" lengthAdjust="spacingAndGlyphs">360</text>
<text x="150.50" y="495.90" font-size="11" text-anchor="middle" fill="#000" textLength="15.2" lengthAdjust="spacingAndGlyphs">920</text>
<text x="178.75" y="495.90" font-size="11" text-anchor="middle" fill="#000" textLength="15.2" lengthAdjust="spacingAndGlyphs">630</text>
<text x="344.25" y="495.90" font-size="11" text-anchor="middle" fill="#000" textLength="20.3" lengthAdjust="spacingAndGlyphs">8330</text>
<text x="501.00" y="495.90" font-size="11" text-anchor="middle" fill="#000" textLength="15.2" lengthAdjust="spacingAndGlyphs">180</text>
<text x="520.50" y="495.90" font-size="11" text-anchor="middle" fill="#000" textLength="15.2" lengthAdjust="spacingAndGlyphs">870</text>
<text x="576.00" y="495.90" font-size="11" text-anchor="middle" fill="#000" textLength="20.3" lengthAdjust="spacingAndGlyphs">2170</text>
<text x="624.50" y="495.90" font-size="11" text-anchor="middle" fill="#000" textLength="15.2" lengthAdjust="spacingAndGlyphs">390</text>
<text x="648.75" y="495.90" font-size="11" text-anchor="middle" fill="#000" textLength="15.2" lengthAdjust="spacingAndGlyphs">980</text>
<text x="671.00" y="495.90" font-size="11" text-anchor="middle" fill="#000" textLength="15.2" lengthAdjust="spacingAndGlyphs">300</text>
<text x="696.00" y="495.90" font-size="11" text-anchor="middle" fill="#000" textLength="20.3" lengthAdjust="spacingAndGlyphs">3480</text>
<text x="682.50" y="485.70" font-size="11" text-anchor="middle" fill="#000" textLength="15.2" lengthAdjust="spacingAndGlyphs">110</text>
<text x="344.25" y="518.30" font-size="11" text-anchor="middle" fill="#000" textLength="20.3" lengthAdjust="spacingAndGlyphs">8330</text>
<text x="560.00" y="518.30" font-size="11" text-anchor="middle" fill="#000" textLength="20.3" lengthAdjust="spacingAndGlyphs">3040</text>
<text x="400.00" y="540.20" font-size="11" text-anchor="middle" fill="#000" textLength="25.4" lengthAdjust="spacingAndGlyphs">14840</text>
</g>
</svg></body></html>
